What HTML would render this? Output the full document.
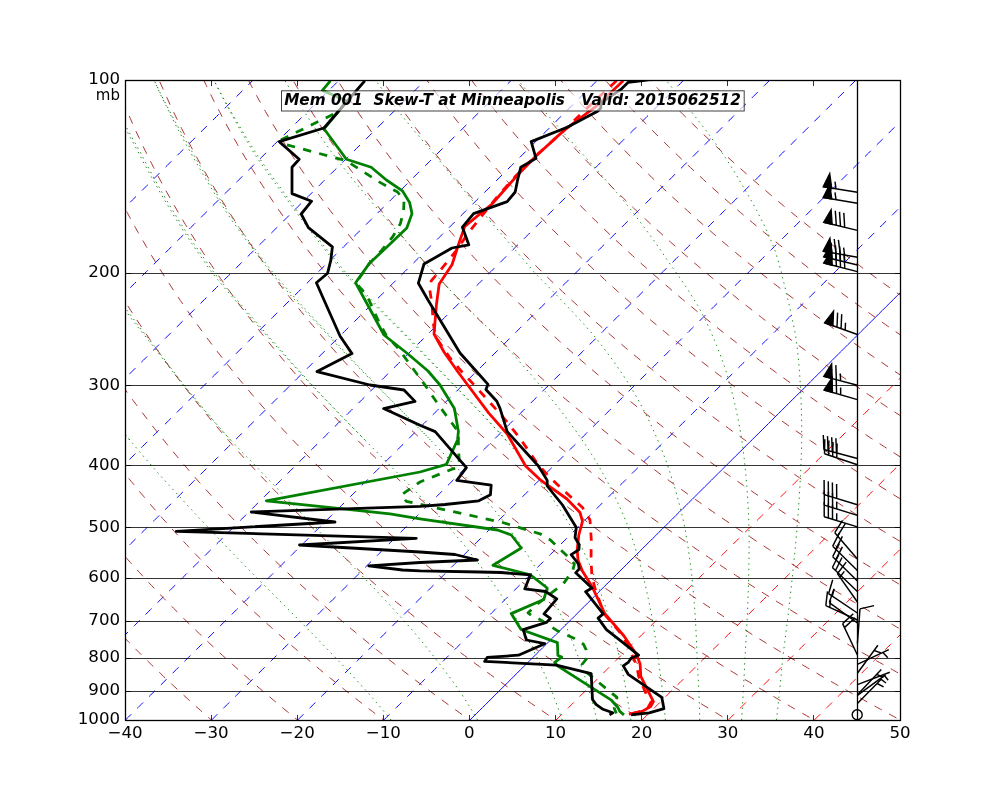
<!DOCTYPE html>
<html><head><meta charset="utf-8"><title>Skew-T</title>
<style>
html,body{margin:0;padding:0;background:#fff;}
svg{display:block;}
text{font-family:"DejaVu Sans","Liberation Sans",sans-serif;font-size:16.67px;fill:#000;}
</style></head><body>
<svg width="1000" height="800" viewBox="0 0 1000 800">
<rect width="1000" height="800" fill="#fff"/>
<defs><clipPath id="ax"><rect x="125" y="80" width="775" height="640"/></clipPath></defs>
<g clip-path="url(#ax)" fill="none"><g transform="translate(0.4,0.1)">
<path d="M-0.3 331.3 L3.1 327.9 L6.6 324.5 L10.1 321.0 L13.6 317.5 L17.2 313.9 L20.9 310.3 L24.5 306.6 L28.3 302.9 L32.1 299.2 L35.9 295.3 L39.8 291.5 L43.8 287.5 L47.8 283.6 L51.8 279.5 L56.0 275.4 L60.2 271.3 L64.4 267.0 L68.7 262.8 L73.1 258.4 L77.6 254.0 L82.1 249.5 L85.1 246.4 L88.2 243.4 L91.4 240.3 L94.5 237.1 L97.7 234.0 L101.0 230.7 L104.2 227.5 L107.5 224.2 L110.9 220.9 L114.3 217.5 L117.7 214.1 L121.2 210.6 L124.7 207.1 L128.3 203.6 L131.9 200.0 L135.6 196.4 L139.3 192.7 L143.0 189.0 L146.8 185.2 L150.7 181.4 L154.6 177.5 L158.6 173.5 L162.6 169.5 L166.7 165.5 L170.8 161.3 L175.0 157.2 L179.3 152.9 L183.7 148.6 L188.1 144.2 L192.5 139.8 L197.1 135.3 L201.7 130.7 L206.4 126.0 L211.2 121.3 L216.1 116.4 L221.0 111.5 L226.1 106.5 L231.2 101.4 L236.4 96.2 L241.8 90.9 L247.2 85.5 L252.7 80.0" stroke="#0000ff" stroke-width="0.95" stroke-dasharray="8.33 8.33"/>
<path d="M-0.3 416.9 L3.0 413.5 L6.4 410.2 L9.9 406.7 L13.3 403.3 L16.8 399.8 L20.4 396.3 L24.0 392.7 L27.7 389.0 L31.4 385.4 L35.1 381.6 L39.0 377.8 L42.8 374.0 L46.7 370.1 L50.7 366.2 L53.7 363.2 L56.8 360.2 L59.8 357.1 L63.0 354.0 L66.1 350.9 L69.3 347.7 L72.5 344.5 L75.8 341.3 L79.1 338.0 L82.4 334.7 L85.8 331.3 L89.2 327.9 L92.7 324.5 L96.2 321.0 L99.7 317.5 L103.3 313.9 L107.0 310.3 L110.7 306.6 L114.4 302.9 L118.2 299.2 L122.0 295.3 L125.9 291.5 L129.9 287.5 L133.9 283.6 L138.0 279.5 L142.1 275.4 L146.3 271.3 L150.5 267.0 L154.8 262.8 L159.2 258.4 L163.7 254.0 L168.2 249.5 L171.3 246.4 L174.3 243.4 L177.5 240.3 L180.6 237.1 L183.8 234.0 L187.1 230.7 L190.3 227.5 L193.7 224.2 L197.0 220.9 L200.4 217.5 L203.8 214.1 L207.3 210.6 L210.8 207.1 L214.4 203.6 L218.0 200.0 L221.7 196.4 L225.4 192.7 L229.1 189.0 L232.9 185.2 L236.8 181.4 L240.7 177.5 L244.7 173.5 L248.7 169.5 L252.8 165.5 L256.9 161.3 L261.2 157.2 L265.4 152.9 L269.8 148.6 L274.2 144.2 L278.6 139.8 L283.2 135.3 L287.8 130.7 L292.5 126.0 L297.3 121.3 L302.2 116.4 L307.1 111.5 L312.2 106.5 L317.3 101.4 L322.5 96.2 L327.9 90.9 L333.3 85.5 L338.8 80.0" stroke="#0000ff" stroke-width="0.95" stroke-dasharray="8.33 8.33"/>
<path d="M-0.9 503.0 L2.2 499.9 L5.3 496.8 L8.4 493.7 L11.6 490.5 L14.8 487.4 L18.1 484.1 L21.3 480.9 L24.7 477.6 L28.0 474.2 L31.4 470.8 L34.9 467.4 L38.4 463.9 L41.9 460.4 L45.5 456.9 L49.1 453.2 L52.8 449.6 L56.5 445.9 L59.6 442.9 L62.6 439.9 L65.7 436.8 L68.8 433.7 L72.0 430.6 L75.2 427.4 L78.4 424.2 L81.7 421.0 L85.0 417.7 L88.3 414.4 L91.7 411.0 L95.1 407.6 L98.6 404.2 L102.1 400.7 L105.6 397.1 L109.2 393.6 L112.9 390.0 L116.6 386.3 L120.3 382.6 L124.1 378.8 L128.0 375.0 L131.9 371.1 L135.8 367.2 L139.8 363.2 L142.9 360.2 L146.0 357.1 L149.1 354.0 L152.2 350.9 L155.4 347.7 L158.6 344.5 L161.9 341.3 L165.2 338.0 L168.5 334.7 L171.9 331.3 L175.3 327.9 L178.8 324.5 L182.3 321.0 L185.8 317.5 L189.4 313.9 L193.1 310.3 L196.8 306.6 L200.5 302.9 L204.3 299.2 L208.1 295.3 L212.0 291.5 L216.0 287.5 L220.0 283.6 L224.1 279.5 L228.2 275.4 L232.4 271.3 L236.6 267.0 L240.9 262.8 L245.3 258.4 L249.8 254.0 L254.3 249.5 L257.4 246.4 L260.5 243.4 L263.6 240.3 L266.8 237.1 L269.9 234.0 L273.2 230.7 L276.5 227.5 L279.8 224.2 L283.1 220.9 L286.5 217.5 L289.9 214.1 L293.4 210.6 L296.9 207.1 L300.5 203.6 L304.1 200.0 L307.8 196.4 L311.5 192.7 L315.2 189.0 L319.0 185.2 L322.9 181.4 L326.8 177.5 L330.8 173.5 L334.8 169.5 L338.9 165.5 L343.1 161.3 L347.3 157.2 L351.5 152.9 L355.9 148.6 L360.3 144.2 L364.8 139.8 L369.3 135.3 L373.9 130.7 L378.6 126.0 L383.4 121.3 L388.3 116.4 L393.2 111.5 L398.3 106.5 L403.4 101.4 L408.7 96.2 L414.0 90.9 L419.4 85.5 L425.0 80.0" stroke="#0000ff" stroke-width="0.95" stroke-dasharray="8.33 8.33"/>
<path d="M-0.9 588.5 L2.3 585.3 L5.5 582.2 L8.7 578.9 L12.0 575.7 L15.3 572.4 L18.6 569.1 L22.0 565.7 L25.5 562.3 L28.9 558.8 L32.0 555.8 L35.0 552.8 L38.1 549.8 L41.2 546.7 L44.3 543.5 L47.5 540.4 L50.8 537.2 L54.0 533.9 L57.3 530.7 L60.7 527.3 L64.0 524.0 L67.5 520.6 L70.9 517.2 L74.4 513.7 L78.0 510.1 L81.6 506.6 L84.6 503.6 L87.7 500.5 L90.8 497.4 L93.9 494.3 L97.1 491.2 L100.3 488.0 L103.5 484.8 L106.8 481.5 L110.1 478.2 L113.5 474.9 L116.9 471.5 L120.3 468.1 L123.8 464.6 L127.3 461.1 L130.9 457.6 L134.5 454.0 L138.2 450.3 L141.9 446.6 L145.7 442.9 L148.7 439.9 L151.8 436.8 L154.9 433.7 L158.1 430.6 L161.3 427.4 L164.5 424.2 L167.8 421.0 L171.1 417.7 L174.4 414.4 L177.8 411.0 L181.2 407.6 L184.7 404.2 L188.2 400.7 L191.7 397.1 L195.3 393.6 L199.0 390.0 L202.7 386.3 L206.4 382.6 L210.2 378.8 L214.1 375.0 L218.0 371.1 L221.9 367.2 L225.9 363.2 L229.0 360.2 L232.1 357.1 L235.2 354.0 L238.3 350.9 L241.5 347.7 L244.7 344.5 L248.0 341.3 L251.3 338.0 L254.6 334.7 L258.0 331.3 L261.4 327.9 L264.9 324.5 L268.4 321.0 L272.0 317.5 L275.5 313.9 L279.2 310.3 L282.9 306.6 L286.6 302.9 L290.4 299.2 L294.3 295.3 L298.2 291.5 L302.1 287.5 L306.1 283.6 L310.2 279.5 L314.3 275.4 L318.5 271.3 L322.7 267.0 L327.1 262.8 L331.4 258.4 L335.9 254.0 L340.4 249.5 L343.5 246.4 L346.6 243.4 L349.7 240.3 L352.9 237.1 L356.1 234.0 L359.3 230.7 L362.6 227.5 L365.9 224.2 L369.2 220.9 L372.6 217.5 L376.1 214.1 L379.5 210.6 L383.1 207.1 L386.6 203.6 L390.2 200.0 L393.9 196.4 L397.6 192.7 L401.4 189.0 L405.2 185.2 L409.0 181.4 L412.9 177.5 L416.9 173.5 L420.9 169.5 L425.0 165.5 L429.2 161.3 L433.4 157.2 L437.6 152.9 L442.0 148.6 L446.4 144.2 L450.9 139.8 L455.4 135.3 L460.0 130.7 L464.7 126.0 L469.5 121.3 L474.4 116.4 L479.4 111.5 L484.4 106.5 L489.5 101.4 L494.8 96.2 L500.1 90.9 L505.5 85.5 L511.1 80.0" stroke="#0000ff" stroke-width="0.95" stroke-dasharray="8.33 8.33"/>
<path d="M-0.8 673.8 L2.6 670.5 L5.6 667.5 L8.7 664.5 L11.8 661.4 L14.9 658.3 L18.0 655.2 L21.2 652.0 L24.5 648.8 L27.7 645.5 L31.1 642.3 L34.4 638.9 L37.4 635.9 L40.5 632.9 L43.5 629.8 L46.7 626.8 L49.8 623.6 L53.0 620.5 L56.2 617.3 L59.5 614.0 L62.8 610.8 L66.1 607.4 L69.5 604.1 L72.9 600.7 L75.9 597.7 L79.0 594.6 L82.1 591.6 L85.2 588.5 L88.4 585.3 L91.6 582.2 L94.8 578.9 L98.1 575.7 L101.4 572.4 L104.7 569.1 L108.1 565.7 L111.6 562.3 L115.0 558.8 L118.1 555.8 L121.1 552.8 L124.2 549.8 L127.3 546.7 L130.5 543.5 L133.6 540.4 L136.9 537.2 L140.1 533.9 L143.4 530.7 L146.8 527.3 L150.1 524.0 L153.6 520.6 L157.0 517.2 L160.5 513.7 L164.1 510.1 L167.7 506.6 L170.7 503.6 L173.8 500.5 L176.9 497.4 L180.0 494.3 L183.2 491.2 L186.4 488.0 L189.6 484.8 L192.9 481.5 L196.2 478.2 L199.6 474.9 L203.0 471.5 L206.4 468.1 L209.9 464.6 L213.4 461.1 L217.0 457.6 L220.6 454.0 L224.3 450.3 L228.0 446.6 L231.8 442.9 L234.8 439.9 L237.9 436.8 L241.0 433.7 L244.2 430.6 L247.4 427.4 L250.6 424.2 L253.9 421.0 L257.2 417.7 L260.5 414.4 L263.9 411.0 L267.3 407.6 L270.8 404.2 L274.3 400.7 L277.9 397.1 L281.5 393.6 L285.1 390.0 L288.8 386.3 L292.5 382.6 L296.3 378.8 L300.2 375.0 L304.1 371.1 L308.0 367.2 L312.0 363.2 L315.1 360.2 L318.2 357.1 L321.3 354.0 L324.4 350.9 L327.6 347.7 L330.8 344.5 L334.1 341.3 L337.4 338.0 L340.7 334.7 L344.1 331.3 L347.5 327.9 L351.0 324.5 L354.5 321.0 L358.1 317.5 L361.7 313.9 L365.3 310.3 L369.0 306.6 L372.7 302.9 L376.5 299.2 L380.4 295.3 L384.3 291.5 L388.2 287.5 L392.2 283.6 L396.3 279.5 L400.4 275.4 L404.6 271.3 L408.9 267.0 L413.2 262.8 L417.6 258.4 L422.0 254.0 L426.5 249.5 L429.6 246.4 L432.7 243.4 L435.8 240.3 L439.0 237.1 L442.2 234.0 L445.4 230.7 L448.7 227.5 L452.0 224.2 L455.3 220.9 L458.7 217.5 L462.2 214.1 L465.6 210.6 L469.2 207.1 L472.7 203.6 L476.3 200.0 L480.0 196.4 L483.7 192.7 L487.5 189.0 L491.3 185.2 L495.1 181.4 L499.0 177.5 L503.0 173.5 L507.0 169.5 L511.1 165.5 L515.3 161.3 L519.5 157.2 L523.8 152.9 L528.1 148.6 L532.5 144.2 L537.0 139.8 L541.5 135.3 L546.2 130.7 L550.9 126.0 L555.6 121.3 L560.5 116.4 L565.5 111.5 L570.5 106.5 L575.6 101.4 L580.9 96.2 L586.2 90.9 L591.6 85.5 L597.2 80.0" stroke="#0000ff" stroke-width="0.95" stroke-dasharray="8.33 8.33"/>
<path d="M38.9 720.0 L42.0 716.9 L45.1 713.8 L48.3 710.7 L51.5 707.5 L54.7 704.3 L58.0 701.0 L61.0 698.0 L64.1 695.0 L67.1 691.9 L70.2 688.9 L73.4 685.7 L76.6 682.6 L79.8 679.4 L83.1 676.1 L86.4 672.9 L89.7 669.5 L92.7 666.5 L95.8 663.5 L98.9 660.4 L102.0 657.3 L105.2 654.1 L108.4 650.9 L111.7 647.7 L115.0 644.5 L118.3 641.1 L121.6 637.8 L124.7 634.8 L127.7 631.8 L130.8 628.7 L134.0 625.6 L137.1 622.4 L140.3 619.3 L143.5 616.1 L146.8 612.8 L150.1 609.5 L153.5 606.2 L156.9 602.8 L160.3 599.4 L163.4 596.4 L166.4 593.3 L169.5 590.3 L172.7 587.1 L175.9 584.0 L179.1 580.8 L182.3 577.6 L185.6 574.3 L188.9 571.0 L192.3 567.6 L195.7 564.2 L199.2 560.8 L202.7 557.3 L205.7 554.3 L208.8 551.3 L211.9 548.2 L215.0 545.1 L218.2 542.0 L221.4 538.8 L224.6 535.6 L227.9 532.3 L231.2 529.0 L234.6 525.7 L238.0 522.3 L241.4 518.9 L244.9 515.4 L248.4 511.9 L252.0 508.4 L255.0 505.4 L258.0 502.3 L261.1 499.3 L264.2 496.2 L267.4 493.1 L270.6 489.9 L273.8 486.7 L277.0 483.5 L280.3 480.2 L283.7 476.9 L287.1 473.5 L290.5 470.1 L293.9 466.7 L297.4 463.2 L301.0 459.7 L304.6 456.1 L308.2 452.5 L311.9 448.9 L315.6 445.1 L318.7 442.1 L321.7 439.1 L324.8 436.0 L327.9 432.9 L331.1 429.8 L334.3 426.6 L337.5 423.4 L340.8 420.1 L344.1 416.9 L347.5 413.5 L350.9 410.2 L354.3 406.7 L357.8 403.3 L361.3 399.8 L364.9 396.3 L368.5 392.7 L372.1 389.0 L375.8 385.4 L379.6 381.6 L383.4 377.8 L387.3 374.0 L391.2 370.1 L395.1 366.2 L398.2 363.2 L401.2 360.2 L404.3 357.1 L407.4 354.0 L410.6 350.9 L413.7 347.7 L417.0 344.5 L420.2 341.3 L423.5 338.0 L426.9 334.7 L430.2 331.3 L433.7 327.9 L437.1 324.5 L440.6 321.0 L444.2 317.5 L447.8 313.9 L451.4 310.3 L455.1 306.6 L458.8 302.9 L462.6 299.2 L466.5 295.3 L470.4 291.5 L474.3 287.5 L478.3 283.6 L482.4 279.5 L486.5 275.4 L490.7 271.3 L495.0 267.0 L499.3 262.8 L503.7 258.4 L508.1 254.0 L512.6 249.5 L515.7 246.4 L518.8 243.4 L521.9 240.3 L525.1 237.1 L528.3 234.0 L531.5 230.7 L534.8 227.5 L538.1 224.2 L541.5 220.9 L544.8 217.5 L548.3 214.1 L551.8 210.6 L555.3 207.1 L558.8 203.6 L562.5 200.0 L566.1 196.4 L569.8 192.7 L573.6 189.0 L577.4 185.2 L581.2 181.4 L585.2 177.5 L589.1 173.5 L593.2 169.5 L597.2 165.5 L601.4 161.3 L605.6 157.2 L609.9 152.9 L614.2 148.6 L618.6 144.2 L623.1 139.8 L627.6 135.3 L632.3 130.7 L637.0 126.0 L641.8 121.3 L646.6 116.4 L651.6 111.5 L656.6 106.5 L661.8 101.4 L667.0 96.2 L672.3 90.9 L677.8 85.5 L683.3 80.0" stroke="#0000ff" stroke-width="0.95" stroke-dasharray="8.33 8.33"/>
<path d="M125.0 720.0 L128.1 716.9 L131.2 713.8 L134.4 710.7 L137.6 707.5 L140.8 704.3 L144.1 701.0 L147.1 698.0 L150.2 695.0 L153.2 691.9 L156.4 688.9 L159.5 685.7 L162.7 682.6 L165.9 679.4 L169.2 676.1 L172.5 672.9 L175.8 669.5 L178.8 666.5 L181.9 663.5 L185.0 660.4 L188.1 657.3 L191.3 654.1 L194.5 650.9 L197.8 647.7 L201.1 644.5 L204.4 641.1 L207.8 637.8 L210.8 634.8 L213.8 631.8 L216.9 628.7 L220.1 625.6 L223.2 622.4 L226.4 619.3 L229.7 616.1 L232.9 612.8 L236.2 609.5 L239.6 606.2 L243.0 602.8 L246.4 599.4 L249.5 596.4 L252.5 593.3 L255.6 590.3 L258.8 587.1 L262.0 584.0 L265.2 580.8 L268.4 577.6 L271.7 574.3 L275.0 571.0 L278.4 567.6 L281.8 564.2 L285.3 560.8 L288.8 557.3 L291.8 554.3 L294.9 551.3 L298.0 548.2 L301.1 545.1 L304.3 542.0 L307.5 538.8 L310.7 535.6 L314.0 532.3 L317.3 529.0 L320.7 525.7 L324.1 522.3 L327.5 518.9 L331.0 515.4 L334.5 511.9 L338.1 508.4 L341.1 505.4 L344.2 502.3 L347.2 499.3 L350.3 496.2 L353.5 493.1 L356.7 489.9 L359.9 486.7 L363.2 483.5 L366.5 480.2 L369.8 476.9 L373.2 473.5 L376.6 470.1 L380.0 466.7 L383.5 463.2 L387.1 459.7 L390.7 456.1 L394.3 452.5 L398.0 448.9 L401.7 445.1 L404.8 442.1 L407.8 439.1 L410.9 436.0 L414.0 432.9 L417.2 429.8 L420.4 426.6 L423.6 423.4 L426.9 420.1 L430.2 416.9 L433.6 413.5 L437.0 410.2 L440.4 406.7 L443.9 403.3 L447.4 399.8 L451.0 396.3 L454.6 392.7 L458.2 389.0 L461.9 385.4 L465.7 381.6 L469.5 377.8 L473.4 374.0 L477.3 370.1 L481.3 366.2 L484.3 363.2 L487.3 360.2 L490.4 357.1 L493.5 354.0 L496.7 350.9 L499.8 347.7 L503.1 344.5 L506.3 341.3 L509.6 338.0 L513.0 334.7 L516.3 331.3 L519.8 327.9 L523.2 324.5 L526.7 321.0 L530.3 317.5 L533.9 313.9 L537.5 310.3 L541.2 306.6 L545.0 302.9 L548.7 299.2 L552.6 295.3 L556.5 291.5 L560.4 287.5 L564.4 283.6 L568.5 279.5 L572.6 275.4 L576.8 271.3 L581.1 267.0 L585.4 262.8 L589.8 258.4 L594.2 254.0 L598.8 249.5 L601.8 246.4 L604.9 243.4 L608.0 240.3 L611.2 237.1 L614.4 234.0 L617.6 230.7 L620.9 227.5 L624.2 224.2 L627.6 220.9 L631.0 217.5 L634.4 214.1 L637.9 210.6 L641.4 207.1 L645.0 203.6 L648.6 200.0 L652.2 196.4 L655.9 192.7 L659.7 189.0 L663.5 185.2 L667.4 181.4 L671.3 177.5 L675.2 173.5 L679.3 169.5 L683.4 165.5 L687.5 161.3 L691.7 157.2 L696.0 152.9 L700.3 148.6 L704.7 144.2 L709.2 139.8 L713.8 135.3 L718.4 130.7 L723.1 126.0 L727.9 121.3 L732.7 116.4 L737.7 111.5 L742.7 106.5 L747.9 101.4 L753.1 96.2 L758.4 90.9 L763.9 85.5 L769.4 80.0" stroke="#0000ff" stroke-width="0.95" stroke-dasharray="8.33 8.33"/>
<path d="M211.1 720.0 L214.2 716.9 L217.3 713.8 L220.5 710.7 L223.7 707.5 L226.9 704.3 L230.2 701.0 L233.2 698.0 L236.3 695.0 L239.4 691.9 L242.5 688.9 L245.6 685.7 L248.8 682.6 L252.0 679.4 L255.3 676.1 L258.6 672.9 L261.9 669.5 L264.9 666.5 L268.0 663.5 L271.1 660.4 L274.3 657.3 L277.4 654.1 L280.6 650.9 L283.9 647.7 L287.2 644.5 L290.5 641.1 L293.9 637.8 L296.9 634.8 L300.0 631.8 L303.0 628.7 L306.2 625.6 L309.3 622.4 L312.5 619.3 L315.8 616.1 L319.0 612.8 L322.4 609.5 L325.7 606.2 L329.1 602.8 L332.5 599.4 L335.6 596.4 L338.6 593.3 L341.8 590.3 L344.9 587.1 L348.1 584.0 L351.3 580.8 L354.5 577.6 L357.8 574.3 L361.2 571.0 L364.5 567.6 L367.9 564.2 L371.4 560.8 L374.9 557.3 L377.9 554.3 L381.0 551.3 L384.1 548.2 L387.2 545.1 L390.4 542.0 L393.6 538.8 L396.8 535.6 L400.1 532.3 L403.4 529.0 L406.8 525.7 L410.2 522.3 L413.6 518.9 L417.1 515.4 L420.6 511.9 L424.2 508.4 L427.2 505.4 L430.3 502.3 L433.3 499.3 L436.5 496.2 L439.6 493.1 L442.8 489.9 L446.0 486.7 L449.3 483.5 L452.6 480.2 L455.9 476.9 L459.3 473.5 L462.7 470.1 L466.1 466.7 L469.7 463.2 L473.2 459.7 L476.8 456.1 L480.4 452.5 L484.1 448.9 L487.9 445.1 L490.9 442.1 L493.9 439.1 L497.0 436.0 L500.2 432.9 L503.3 429.8 L506.5 426.6 L509.8 423.4 L513.0 420.1 L516.3 416.9 L519.7 413.5 L523.1 410.2 L526.5 406.7 L530.0 403.3 L533.5 399.8 L537.1 396.3 L540.7 392.7 L544.3 389.0 L548.1 385.4 L551.8 381.6 L555.6 377.8 L559.5 374.0 L563.4 370.1 L567.4 366.2 L570.4 363.2 L573.4 360.2 L576.5 357.1 L579.6 354.0 L582.8 350.9 L586.0 347.7 L589.2 344.5 L592.4 341.3 L595.7 338.0 L599.1 334.7 L602.5 331.3 L605.9 327.9 L609.3 324.5 L612.8 321.0 L616.4 317.5 L620.0 313.9 L623.6 310.3 L627.3 306.6 L631.1 302.9 L634.9 299.2 L638.7 295.3 L642.6 291.5 L646.5 287.5 L650.6 283.6 L654.6 279.5 L658.7 275.4 L662.9 271.3 L667.2 267.0 L671.5 262.8 L675.9 258.4 L680.3 254.0 L684.9 249.5 L687.9 246.4 L691.0 243.4 L694.1 240.3 L697.3 237.1 L700.5 234.0 L703.7 230.7 L707.0 227.5 L710.3 224.2 L713.7 220.9 L717.1 217.5 L720.5 214.1 L724.0 210.6 L727.5 207.1 L731.1 203.6 L734.7 200.0 L738.3 196.4 L742.0 192.7 L745.8 189.0 L749.6 185.2 L753.5 181.4 L757.4 177.5 L761.3 173.5 L765.4 169.5 L769.5 165.5 L773.6 161.3 L777.8 157.2 L782.1 152.9 L786.4 148.6 L790.8 144.2 L795.3 139.8 L799.9 135.3 L804.5 130.7 L809.2 126.0 L814.0 121.3 L818.8 116.4 L823.8 111.5 L828.8 106.5 L834.0 101.4 L839.2 96.2 L844.5 90.9 L850.0 85.5 L855.5 80.0" stroke="#0000ff" stroke-width="0.95" stroke-dasharray="8.33 8.33"/>
<path d="M297.2 720.0 L300.3 716.9 L303.4 713.8 L306.6 710.7 L309.8 707.5 L313.1 704.3 L316.3 701.0 L319.3 698.0 L322.4 695.0 L325.5 691.9 L328.6 688.9 L331.7 685.7 L334.9 682.6 L338.1 679.4 L341.4 676.1 L344.7 672.9 L348.0 669.5 L351.1 666.5 L354.1 663.5 L357.2 660.4 L360.4 657.3 L363.5 654.1 L366.8 650.9 L370.0 647.7 L373.3 644.5 L376.6 641.1 L380.0 637.8 L383.0 634.8 L386.1 631.8 L389.2 628.7 L392.3 625.6 L395.4 622.4 L398.6 619.3 L401.9 616.1 L405.2 612.8 L408.5 609.5 L411.8 606.2 L415.2 602.8 L418.6 599.4 L421.7 596.4 L424.8 593.3 L427.9 590.3 L431.0 587.1 L434.2 584.0 L437.4 580.8 L440.6 577.6 L443.9 574.3 L447.3 571.0 L450.6 567.6 L454.0 564.2 L457.5 560.8 L461.0 557.3 L464.0 554.3 L467.1 551.3 L470.2 548.2 L473.3 545.1 L476.5 542.0 L479.7 538.8 L482.9 535.6 L486.2 532.3 L489.5 529.0 L492.9 525.7 L496.3 522.3 L499.7 518.9 L503.2 515.4 L506.7 511.9 L510.3 508.4 L513.3 505.4 L516.4 502.3 L519.5 499.3 L522.6 496.2 L525.7 493.1 L528.9 489.9 L532.1 486.7 L535.4 483.5 L538.7 480.2 L542.0 476.9 L545.4 473.5 L548.8 470.1 L552.3 466.7 L555.8 463.2 L559.3 459.7 L562.9 456.1 L566.5 452.5 L570.2 448.9 L574.0 445.1 L577.0 442.1 L580.1 439.1 L583.1 436.0 L586.3 432.9 L589.4 429.8 L592.6 426.6 L595.9 423.4 L599.1 420.1 L602.5 416.9 L605.8 413.5 L609.2 410.2 L612.6 406.7 L616.1 403.3 L619.6 399.8 L623.2 396.3 L626.8 392.7 L630.5 389.0 L634.2 385.4 L637.9 381.6 L641.7 377.8 L645.6 374.0 L649.5 370.1 L653.5 366.2 L656.5 363.2 L659.5 360.2 L662.6 357.1 L665.7 354.0 L668.9 350.9 L672.1 347.7 L675.3 344.5 L678.6 341.3 L681.9 338.0 L685.2 334.7 L688.6 331.3 L692.0 327.9 L695.5 324.5 L699.0 321.0 L702.5 317.5 L706.1 313.9 L709.7 310.3 L713.4 306.6 L717.2 302.9 L721.0 299.2 L724.8 295.3 L728.7 291.5 L732.7 287.5 L736.7 283.6 L740.7 279.5 L744.9 275.4 L749.0 271.3 L753.3 267.0 L757.6 262.8 L762.0 258.4 L766.5 254.0 L771.0 249.5 L774.0 246.4 L777.1 243.4 L780.3 240.3 L783.4 237.1 L786.6 234.0 L789.9 230.7 L793.1 227.5 L796.4 224.2 L799.8 220.9 L803.2 217.5 L806.6 214.1 L810.1 210.6 L813.6 207.1 L817.2 203.6 L820.8 200.0 L824.4 196.4 L828.2 192.7 L831.9 189.0 L835.7 185.2 L839.6 181.4 L843.5 177.5 L847.5 173.5 L851.5 169.5 L855.6 165.5 L859.7 161.3 L863.9 157.2 L868.2 152.9 L872.5 148.6 L876.9 144.2 L881.4 139.8 L886.0 135.3 L890.6 130.7 L895.3 126.0 L900.1 121.3 L905.0 116.4 L909.9 111.5 L915.0 106.5 L920.1 101.4 L925.3 96.2 L930.6 90.9 L936.1 85.5 L941.6 80.0" stroke="#0000ff" stroke-width="0.95" stroke-dasharray="8.33 8.33"/>
<path d="M383.3 720.0 L386.4 716.9 L389.6 713.8 L392.7 710.7 L395.9 707.5 L399.2 704.3 L402.4 701.0 L405.5 698.0 L408.5 695.0 L411.6 691.9 L414.7 688.9 L417.8 685.7 L421.0 682.6 L424.2 679.4 L427.5 676.1 L430.8 672.9 L434.1 669.5 L437.2 666.5 L440.2 663.5 L443.3 660.4 L446.5 657.3 L449.7 654.1 L452.9 650.9 L456.1 647.7 L459.4 644.5 L462.7 641.1 L466.1 637.8 L469.1 634.8 L472.2 631.8 L475.3 628.7 L478.4 625.6 L481.6 622.4 L484.8 619.3 L488.0 616.1 L491.3 612.8 L494.6 609.5 L497.9 606.2 L501.3 602.8 L504.8 599.4 L507.8 596.4 L510.9 593.3 L514.0 590.3 L517.1 587.1 L520.3 584.0 L523.5 580.8 L526.8 577.6 L530.1 574.3 L533.4 571.0 L536.7 567.6 L540.2 564.2 L543.6 560.8 L547.1 557.3 L550.1 554.3 L553.2 551.3 L556.3 548.2 L559.4 545.1 L562.6 542.0 L565.8 538.8 L569.0 535.6 L572.3 532.3 L575.6 529.0 L579.0 525.7 L582.4 522.3 L585.8 518.9 L589.3 515.4 L592.9 511.9 L596.4 508.4 L599.4 505.4 L602.5 502.3 L605.6 499.3 L608.7 496.2 L611.8 493.1 L615.0 489.9 L618.2 486.7 L621.5 483.5 L624.8 480.2 L628.1 476.9 L631.5 473.5 L634.9 470.1 L638.4 466.7 L641.9 463.2 L645.4 459.7 L649.0 456.1 L652.7 452.5 L656.3 448.9 L660.1 445.1 L663.1 442.1 L666.2 439.1 L669.3 436.0 L672.4 432.9 L675.5 429.8 L678.7 426.6 L682.0 423.4 L685.3 420.1 L688.6 416.9 L691.9 413.5 L695.3 410.2 L698.7 406.7 L702.2 403.3 L705.7 399.8 L709.3 396.3 L712.9 392.7 L716.6 389.0 L720.3 385.4 L724.0 381.6 L727.8 377.8 L731.7 374.0 L735.6 370.1 L739.6 366.2 L742.6 363.2 L745.6 360.2 L748.7 357.1 L751.8 354.0 L755.0 350.9 L758.2 347.7 L761.4 344.5 L764.7 341.3 L768.0 338.0 L771.3 334.7 L774.7 331.3 L778.1 327.9 L781.6 324.5 L785.1 321.0 L788.6 317.5 L792.2 313.9 L795.9 310.3 L799.5 306.6 L803.3 302.9 L807.1 299.2 L810.9 295.3 L814.8 291.5 L818.8 287.5 L822.8 283.6 L826.8 279.5 L831.0 275.4 L835.2 271.3 L839.4 267.0 L843.7 262.8 L848.1 258.4 L852.6 254.0 L857.1 249.5 L860.1 246.4 L863.2 243.4 L866.4 240.3 L869.5 237.1 L872.7 234.0 L876.0 230.7 L879.2 227.5 L882.5 224.2 L885.9 220.9 L889.3 217.5 L892.7 214.1 L896.2 210.6 L899.7 207.1 L903.3 203.6 L906.9 200.0 L910.6 196.4 L914.3 192.7 L918.0 189.0 L921.8 185.2 L925.7 181.4 L929.6 177.5 L933.6 173.5 L937.6 169.5 L941.7 165.5 L945.8 161.3 L950.0 157.2 L954.3 152.9 L958.7 148.6 L963.1 144.2 L967.5 139.8 L972.1 135.3 L976.7 130.7 L981.4 126.0 L986.2 121.3 L991.1 116.4 L996.0 111.5 L1001.1 106.5" stroke="#0000ff" stroke-width="0.95" stroke-dasharray="8.33 8.33"/>
<path d="M469.4 720.0 L472.5 716.9 L475.7 713.8 L478.8 710.7 L482.0 707.5 L485.3 704.3 L488.6 701.0 L491.6 698.0 L494.6 695.0 L497.7 691.9 L500.8 688.9 L504.0 685.7 L507.1 682.6 L510.4 679.4 L513.6 676.1 L516.9 672.9 L520.2 669.5 L523.3 666.5 L526.4 663.5 L529.5 660.4 L532.6 657.3 L535.8 654.1 L539.0 650.9 L542.2 647.7 L545.5 644.5 L548.8 641.1 L552.2 637.8 L555.2 634.8 L558.3 631.8 L561.4 628.7 L564.5 625.6 L567.7 622.4 L570.9 619.3 L574.1 616.1 L577.4 612.8 L580.7 609.5 L584.0 606.2 L587.4 602.8 L590.9 599.4 L593.9 596.4 L597.0 593.3 L600.1 590.3 L603.2 587.1 L606.4 584.0 L609.6 580.8 L612.9 577.6 L616.2 574.3 L619.5 571.0 L622.9 567.6 L626.3 564.2 L629.7 560.8 L633.2 557.3 L636.2 554.3 L639.3 551.3 L642.4 548.2 L645.5 545.1 L648.7 542.0 L651.9 538.8 L655.2 535.6 L658.4 532.3 L661.8 529.0 L665.1 525.7 L668.5 522.3 L672.0 518.9 L675.4 515.4 L679.0 511.9 L682.5 508.4 L685.6 505.4 L688.6 502.3 L691.7 499.3 L694.8 496.2 L697.9 493.1 L701.1 489.9 L704.3 486.7 L707.6 483.5 L710.9 480.2 L714.2 476.9 L717.6 473.5 L721.0 470.1 L724.5 466.7 L728.0 463.2 L731.5 459.7 L735.1 456.1 L738.8 452.5 L742.5 448.9 L746.2 445.1 L749.2 442.1 L752.3 439.1 L755.4 436.0 L758.5 432.9 L761.7 429.8 L764.9 426.6 L768.1 423.4 L771.4 420.1 L774.7 416.9 L778.0 413.5 L781.4 410.2 L784.9 406.7 L788.3 403.3 L791.8 399.8 L795.4 396.3 L799.0 392.7 L802.7 389.0 L806.4 385.4 L810.1 381.6 L814.0 377.8 L817.8 374.0 L821.7 370.1 L825.7 366.2 L828.7 363.2 L831.8 360.2 L834.8 357.1 L838.0 354.0 L841.1 350.9 L844.3 347.7 L847.5 344.5 L850.8 341.3 L854.1 338.0 L857.4 334.7 L860.8 331.3 L864.2 327.9 L867.7 324.5 L871.2 321.0 L874.7 317.5 L878.3 313.9 L882.0 310.3 L885.7 306.6 L889.4 302.9 L893.2 299.2 L897.0 295.3 L900.9 291.5 L904.9 287.5 L908.9 283.6 L913.0 279.5 L917.1 275.4 L921.3 271.3 L925.5 267.0 L929.8 262.8 L934.2 258.4 L938.7 254.0 L943.2 249.5 L946.3 246.4 L949.3 243.4 L952.5 240.3 L955.6 237.1 L958.8 234.0 L962.1 230.7 L965.3 227.5 L968.7 224.2 L972.0 220.9 L975.4 217.5 L978.8 214.1 L982.3 210.6 L985.8 207.1 L989.4 203.6 L993.0 200.0 L996.7 196.4 L1000.4 192.7 L1002.2 190.8" stroke="#0000ff" stroke-width="0.95"/>
<path d="M555.6 720.0 L558.7 716.9 L561.8 713.8 L564.9 710.7 L568.1 707.5 L571.4 704.3 L574.7 701.0 L577.7 698.0 L580.7 695.0 L583.8 691.9 L586.9 688.9 L590.1 685.7 L593.2 682.6 L596.5 679.4 L599.7 676.1 L603.0 672.9 L606.4 669.5 L609.4 666.5 L612.5 663.5 L615.6 660.4 L618.7 657.3 L621.9 654.1 L625.1 650.9 L628.3 647.7 L631.6 644.5 L634.9 641.1 L638.3 637.8 L641.3 634.8 L644.4 631.8 L647.5 628.7 L650.6 625.6 L653.8 622.4 L657.0 619.3 L660.2 616.1 L663.5 612.8 L666.8 609.5 L670.2 606.2 L673.5 602.8 L677.0 599.4 L680.0 596.4 L683.1 593.3 L686.2 590.3 L689.3 587.1 L692.5 584.0 L695.7 580.8 L699.0 577.6 L702.3 574.3 L705.6 571.0 L709.0 567.6 L712.4 564.2 L715.8 560.8 L719.3 557.3 L722.4 554.3 L725.4 551.3 L728.5 548.2 L731.7 545.1 L734.8 542.0 L738.0 538.8 L741.3 535.6 L744.5 532.3 L747.9 529.0 L751.2 525.7 L754.6 522.3 L758.1 518.9 L761.5 515.4 L765.1 511.9 L768.6 508.4 L771.7 505.4 L774.7 502.3 L777.8 499.3 L780.9 496.2 L784.0 493.1 L787.2 489.9 L790.5 486.7 L793.7 483.5 L797.0 480.2 L800.3 476.9 L803.7 473.5 L807.1 470.1 L810.6 466.7 L814.1 463.2 L817.6 459.7 L821.2 456.1 L824.9 452.5 L828.6 448.9 L832.3 445.1 L835.3 442.1 L838.4 439.1 L841.5 436.0 L844.6 432.9 L847.8 429.8 L851.0 426.6 L854.2 423.4 L857.5 420.1 L860.8 416.9 L864.1 413.5 L867.5 410.2 L871.0 406.7 L874.4 403.3 L878.0 399.8 L881.5 396.3 L885.1 392.7 L888.8 389.0 L892.5 385.4 L896.3 381.6 L900.1 377.8 L903.9 374.0 L907.8 370.1 L911.8 366.2 L914.8 363.2 L917.9 360.2 L921.0 357.1 L924.1 354.0 L927.2 350.9 L930.4 347.7 L933.6 344.5 L936.9 341.3 L940.2 338.0 L943.5 334.7 L946.9 331.3 L950.3 327.9 L953.8 324.5 L957.3 321.0 L960.8 317.5 L964.4 313.9 L968.1 310.3 L971.8 306.6 L975.5 302.9 L979.3 299.2 L983.1 295.3 L987.0 291.5 L991.0 287.5 L995.0 283.6 L999.1 279.5 L1001.8 276.8" stroke="#ff0000" stroke-width="0.95" stroke-dasharray="8.33 8.33"/>
<path d="M641.7 720.0 L644.8 716.9 L647.9 713.8 L651.1 710.7 L654.3 707.5 L657.5 704.3 L660.8 701.0 L663.8 698.0 L666.8 695.0 L669.9 691.9 L673.0 688.9 L676.2 685.7 L679.4 682.6 L682.6 679.4 L685.8 676.1 L689.1 672.9 L692.5 669.5 L695.5 666.5 L698.6 663.5 L701.7 660.4 L704.8 657.3 L708.0 654.1 L711.2 650.9 L714.4 647.7 L717.7 644.5 L721.1 641.1 L724.4 637.8 L727.5 634.8 L730.5 631.8 L733.6 628.7 L736.7 625.6 L739.9 622.4 L743.1 619.3 L746.3 616.1 L749.6 612.8 L752.9 609.5 L756.3 606.2 L759.7 602.8 L763.1 599.4 L766.1 596.4 L769.2 593.3 L772.3 590.3 L775.5 587.1 L778.6 584.0 L781.8 580.8 L785.1 577.6 L788.4 574.3 L791.7 571.0 L795.1 567.6 L798.5 564.2 L801.9 560.8 L805.4 557.3 L808.5 554.3 L811.5 551.3 L814.6 548.2 L817.8 545.1 L820.9 542.0 L824.1 538.8 L827.4 535.6 L830.7 532.3 L834.0 529.0 L837.3 525.7 L840.7 522.3 L844.2 518.9 L847.7 515.4 L851.2 511.9 L854.8 508.4 L857.8 505.4 L860.8 502.3 L863.9 499.3 L867.0 496.2 L870.2 493.1 L873.3 489.9 L876.6 486.7 L879.8 483.5 L883.1 480.2 L886.5 476.9 L889.8 473.5 L893.2 470.1 L896.7 466.7 L900.2 463.2 L903.8 459.7 L907.3 456.1 L911.0 452.5 L914.7 448.9 L918.4 445.1 L921.4 442.1 L924.5 439.1 L927.6 436.0 L930.7 432.9 L933.9 429.8 L937.1 426.6 L940.3 423.4 L943.6 420.1 L946.9 416.9 L950.2 413.5 L953.6 410.2 L957.1 406.7 L960.6 403.3 L964.1 399.8 L967.6 396.3 L971.2 392.7 L974.9 389.0 L978.6 385.4 L982.4 381.6 L986.2 377.8 L990.0 374.0 L994.0 370.1 L997.9 366.2 L1000.9 363.2 L1001.9 362.2" stroke="#ff0000" stroke-width="0.95" stroke-dasharray="8.33 8.33"/>
<path d="M727.8 720.0 L730.9 716.9 L734.0 713.8 L737.2 710.7 L740.4 707.5 L743.6 704.3 L746.9 701.0 L749.9 698.0 L752.9 695.0 L756.0 691.9 L759.1 688.9 L762.3 685.7 L765.5 682.6 L768.7 679.4 L771.9 676.1 L775.2 672.9 L778.6 669.5 L781.6 666.5 L784.7 663.5 L787.8 660.4 L790.9 657.3 L794.1 654.1 L797.3 650.9 L800.6 647.7 L803.8 644.5 L807.2 641.1 L810.5 637.8 L813.6 634.8 L816.6 631.8 L819.7 628.7 L822.8 625.6 L826.0 622.4 L829.2 619.3 L832.4 616.1 L835.7 612.8 L839.0 609.5 L842.4 606.2 L845.8 602.8 L849.2 599.4 L852.2 596.4 L855.3 593.3 L858.4 590.3 L861.6 587.1 L864.7 584.0 L868.0 580.8 L871.2 577.6 L874.5 574.3 L877.8 571.0 L881.2 567.6 L884.6 564.2 L888.1 560.8 L891.5 557.3 L894.6 554.3 L897.6 551.3 L900.7 548.2 L903.9 545.1 L907.0 542.0 L910.2 538.8 L913.5 535.6 L916.8 532.3 L920.1 529.0 L923.4 525.7 L926.8 522.3 L930.3 518.9 L933.8 515.4 L937.3 511.9 L940.9 508.4 L943.9 505.4 L946.9 502.3 L950.0 499.3 L953.1 496.2 L956.3 493.1 L959.5 489.9 L962.7 486.7 L965.9 483.5 L969.2 480.2 L972.6 476.9 L975.9 473.5 L979.4 470.1 L982.8 466.7 L986.3 463.2 L989.9 459.7 L993.5 456.1 L997.1 452.5 L1000.8 448.9 L1001.5 448.1" stroke="#ff0000" stroke-width="0.95" stroke-dasharray="8.33 8.33"/>
<path d="M813.9 720.0 L817.0 716.9 L820.1 713.8 L823.3 710.7 L826.5 707.5 L829.7 704.3 L833.0 701.0 L836.0 698.0 L839.1 695.0 L842.1 691.9 L845.2 688.9 L848.4 685.7 L851.6 682.6 L854.8 679.4 L858.1 676.1 L861.4 672.9 L864.7 669.5 L867.7 666.5 L870.8 663.5 L873.9 660.4 L877.0 657.3 L880.2 654.1 L883.4 650.9 L886.7 647.7 L890.0 644.5 L893.3 641.1 L896.6 637.8 L899.7 634.8 L902.7 631.8 L905.8 628.7 L909.0 625.6 L912.1 622.4 L915.3 619.3 L918.5 616.1 L921.8 612.8 L925.1 609.5 L928.5 606.2 L931.9 602.8 L935.3 599.4 L938.4 596.4 L941.4 593.3 L944.5 590.3 L947.7 587.1 L950.9 584.0 L954.1 580.8 L957.3 577.6 L960.6 574.3 L963.9 571.0 L967.3 567.6 L970.7 564.2 L974.2 560.8 L977.7 557.3 L980.7 554.3 L983.8 551.3 L986.9 548.2 L990.0 545.1 L993.2 542.0 L996.4 538.8 L999.6 535.6 L1001.2 533.9" stroke="#ff0000" stroke-width="0.95" stroke-dasharray="8.33 8.33"/>
<path d="M226.8 733.6 L223.4 730.6 L220.0 727.7 L216.5 724.7 L213.0 721.7 L209.5 718.6 L206.3 715.8 L203.1 713.0 L199.9 710.1 L196.6 707.2 L193.4 704.3 L190.1 701.3 L186.8 698.3 L183.5 695.3 L180.2 692.3 L176.9 689.2 L173.5 686.0 L170.1 682.9 L166.7 679.7 L163.3 676.5 L160.3 673.5 L157.2 670.5 L154.1 667.5 L150.9 664.5 L147.8 661.4 L144.6 658.3 L141.5 655.2 L138.3 652.0 L135.1 648.8 L131.9 645.5 L128.6 642.3 L125.4 638.9 L122.1 635.6 L118.8 632.1 L115.5 628.7 L112.6 625.6 L109.6 622.4 L106.7 619.3 L103.7 616.1 L100.7 612.8 L97.6 609.5 L94.6 606.2 L91.6 602.8 L88.5 599.4 L85.4 596.0 L82.3 592.5 L79.2 588.9 L76.1 585.3 L73.0 581.7 L69.8 578.0 L67.1 574.8 L64.3 571.5 L61.5 568.1 L58.7 564.7 L55.9 561.3 L53.0 557.8 L50.2 554.3 L47.3 550.8 L44.4 547.2 L41.6 543.5 L38.7 539.8 L35.7 536.1 L32.8 532.3 L29.9 528.5 L26.9 524.5 L24.0 520.6 L21.0 516.6 L18.4 513.1 L15.8 509.6 L13.2 506.0 L10.6 502.3 L8.0 498.7 L5.4 495.0 L2.8 491.2 L0.1 487.4 L-1.2 485.4" stroke="#a52a2a" stroke-width="0.95" stroke-dasharray="8.33 8.33"/>
<path d="M314.2 733.6 L310.8 730.9 L307.4 728.2 L304.0 725.5 L300.6 722.8 L297.2 720.0 L293.8 717.2 L290.3 714.4 L286.9 711.5 L283.4 708.7 L279.9 705.7 L276.4 702.8 L272.8 699.8 L269.3 696.8 L265.7 693.8 L262.1 690.7 L258.8 687.9 L255.6 685.1 L252.3 682.2 L249.0 679.4 L245.7 676.5 L242.4 673.5 L239.0 670.5 L235.6 667.5 L232.3 664.5 L228.9 661.4 L225.5 658.3 L222.0 655.2 L218.6 652.0 L215.1 648.8 L211.6 645.5 L208.5 642.6 L205.4 639.7 L202.2 636.7 L199.1 633.7 L195.9 630.6 L192.7 627.5 L189.5 624.4 L186.3 621.3 L183.1 618.1 L179.8 614.8 L176.6 611.6 L173.3 608.3 L170.0 604.9 L166.7 601.5 L163.3 598.1 L160.0 594.6 L157.0 591.6 L154.1 588.5 L151.1 585.3 L148.1 582.2 L145.1 578.9 L142.1 575.7 L139.1 572.4 L136.0 569.1 L133.0 565.7 L129.9 562.3 L126.8 558.8 L123.7 555.3 L120.6 551.8 L117.4 548.2 L114.3 544.6 L111.1 540.9 L107.9 537.2 L104.7 533.4 L102.0 530.1 L99.2 526.8 L96.4 523.4 L93.6 520.0 L90.8 516.6 L88.0 513.1 L85.2 509.6 L82.4 506.0 L79.5 502.3 L76.6 498.7 L73.8 495.0 L70.9 491.2 L67.9 487.4 L65.0 483.5 L62.1 479.5 L59.1 475.6 L56.2 471.5 L53.2 467.4 L50.2 463.2 L47.7 459.7 L45.2 456.1 L42.7 452.5 L40.1 448.9 L37.6 445.1 L35.0 441.4 L32.5 437.6 L29.9 433.7 L27.3 429.8 L24.7 425.8 L22.1 421.8 L19.5 417.7 L16.9 413.5 L14.3 409.3 L11.6 405.0 L9.0 400.7 L6.3 396.3 L3.6 391.8 L0.9 387.2 L-1.2 383.5" stroke="#a52a2a" stroke-width="0.95" stroke-dasharray="8.33 8.33"/>
<path d="M401.5 733.6 L397.9 730.9 L394.3 728.2 L390.6 725.5 L387.0 722.8 L383.3 720.0 L379.7 717.2 L375.9 714.4 L372.2 711.5 L368.5 708.7 L364.7 705.7 L361.3 703.1 L357.9 700.4 L354.5 697.7 L351.0 695.0 L347.6 692.3 L344.1 689.5 L340.6 686.7 L337.1 683.8 L333.6 681.0 L330.0 678.1 L326.4 675.2 L322.8 672.2 L319.2 669.2 L315.6 666.2 L312.0 663.1 L308.3 660.1 L305.1 657.3 L301.8 654.5 L298.5 651.7 L295.1 648.8 L291.8 645.9 L288.5 643.0 L285.1 640.0 L281.7 637.1 L278.3 634.0 L274.9 631.0 L271.5 627.9 L268.0 624.8 L264.6 621.7 L261.1 618.5 L257.6 615.2 L254.0 612.0 L250.5 608.7 L247.4 605.8 L244.3 602.8 L241.1 599.8 L238.0 596.8 L234.8 593.8 L231.6 590.7 L228.4 587.6 L225.2 584.4 L221.9 581.2 L218.7 578.0 L215.4 574.8 L212.1 571.5 L208.8 568.1 L205.5 564.7 L202.2 561.3 L198.8 557.8 L195.4 554.3 L192.0 550.8 L189.1 547.7 L186.2 544.6 L183.3 541.4 L180.3 538.2 L177.3 535.0 L174.3 531.8 L171.3 528.5 L168.3 525.1 L165.3 521.7 L162.2 518.3 L159.2 514.8 L156.1 511.3 L153.0 507.8 L149.9 504.2 L146.8 500.5 L143.7 496.8 L140.5 493.1 L137.3 489.3 L134.2 485.4 L131.0 481.5 L127.7 477.6 L125.0 474.2 L122.3 470.8 L119.6 467.4 L116.9 463.9 L114.2 460.4 L111.4 456.9 L108.6 453.2 L105.9 449.6 L103.1 445.9 L100.3 442.1 L97.5 438.3 L94.6 434.5 L91.8 430.6 L89.0 426.6 L86.1 422.6 L83.2 418.5 L80.3 414.4 L77.4 410.2 L74.5 405.9 L71.6 401.6 L68.6 397.1 L65.7 392.7 L63.3 389.0 L60.9 385.4 L58.5 381.6 L56.1 377.8 L53.7 374.0 L51.3 370.1 L48.9 366.2 L46.4 362.2 L44.0 358.1 L41.6 354.0 L39.1 349.8 L36.6 345.6 L34.1 341.3 L31.7 336.9 L29.2 332.4 L26.7 327.9 L24.2 323.3 L21.7 318.7 L19.1 313.9 L16.6 309.1 L14.1 304.2 L11.5 299.2 L9.0 294.1 L6.4 288.9 L3.8 283.6 L1.3 278.2 L-0.7 274.0 L-1.3 272.7" stroke="#a52a2a" stroke-width="0.95" stroke-dasharray="8.33 8.33"/>
<path d="M488.8 733.6 L485.0 730.9 L481.1 728.2 L477.2 725.5 L473.4 722.8 L469.8 720.3 L466.3 717.8 L462.8 715.2 L459.2 712.7 L455.6 710.1 L452.0 707.5 L448.4 704.9 L444.7 702.2 L441.1 699.5 L437.4 696.8 L433.7 694.1 L430.0 691.3 L426.3 688.5 L422.6 685.7 L418.8 682.9 L415.0 680.0 L411.2 677.1 L407.8 674.5 L404.4 671.9 L401.0 669.2 L397.5 666.5 L394.1 663.8 L390.6 661.1 L387.1 658.3 L383.6 655.5 L380.1 652.7 L376.5 649.9 L373.0 647.0 L369.4 644.1 L365.8 641.1 L362.2 638.2 L358.5 635.2 L354.9 632.1 L351.2 629.1 L347.5 626.0 L343.8 622.8 L340.5 620.1 L337.2 617.3 L333.9 614.4 L330.6 611.6 L327.3 608.7 L324.0 605.8 L320.6 602.8 L317.2 599.8 L313.8 596.8 L310.4 593.8 L307.0 590.7 L303.5 587.6 L300.1 584.4 L296.6 581.2 L293.1 578.0 L289.6 574.8 L286.0 571.5 L282.5 568.1 L278.9 564.7 L275.8 561.8 L272.7 558.8 L269.6 555.8 L266.5 552.8 L263.4 549.8 L260.2 546.7 L257.0 543.5 L253.9 540.4 L250.7 537.2 L247.5 533.9 L244.2 530.7 L241.0 527.3 L237.7 524.0 L234.4 520.6 L231.1 517.2 L227.8 513.7 L224.5 510.1 L221.1 506.6 L217.8 503.0 L214.4 499.3 L211.0 495.6 L207.6 491.8 L204.7 488.6 L201.8 485.4 L198.9 482.2 L196.0 478.9 L193.1 475.6 L190.2 472.2 L187.2 468.8 L184.3 465.3 L181.3 461.8 L178.3 458.3 L175.3 454.7 L172.3 451.1 L169.3 447.4 L166.2 443.6 L163.2 439.9 L160.1 436.0 L157.0 432.1 L153.9 428.2 L150.8 424.2 L147.6 420.1 L144.5 416.0 L141.3 411.8 L138.1 407.6 L135.6 404.2 L133.0 400.7 L130.4 397.1 L127.8 393.6 L125.2 390.0 L122.6 386.3 L120.0 382.6 L117.4 378.8 L114.7 375.0 L112.1 371.1 L109.4 367.2 L106.7 363.2 L104.0 359.1 L101.3 355.0 L98.6 350.9 L95.9 346.6 L93.2 342.4 L90.4 338.0 L87.7 333.6 L84.9 329.1 L82.1 324.5 L79.4 319.8 L76.6 315.1 L73.8 310.3 L70.9 305.4 L68.1 300.4 L65.3 295.3 L63.1 291.5 L61.0 287.5 L58.8 283.6 L56.7 279.5 L54.5 275.4 L52.4 271.3 L50.2 267.0 L48.0 262.8 L45.8 258.4 L43.6 254.0 L41.5 249.5 L39.3 244.9 L37.1 240.3 L34.9 235.5 L32.7 230.7 L30.5 225.8 L28.2 220.9 L26.0 215.8 L23.8 210.6 L21.6 205.4 L19.4 200.0 L17.2 194.5 L14.9 189.0 L12.7 183.3 L10.5 177.5 L8.3 171.5 L6.1 165.5 L3.9 159.3 L1.7 152.9 L-0.5 146.4 L-1.2 144.2" stroke="#a52a2a" stroke-width="0.95" stroke-dasharray="8.33 8.33"/>
<path d="M576.1 733.6 L572.5 731.2 L568.8 728.8 L565.1 726.3 L561.4 723.9 L557.6 721.4 L553.9 718.9 L550.1 716.4 L546.3 713.8 L542.5 711.2 L538.7 708.7 L534.9 706.0 L531.0 703.4 L527.1 700.7 L523.2 698.0 L519.3 695.3 L515.4 692.6 L511.4 689.8 L507.9 687.3 L504.4 684.8 L500.8 682.2 L497.2 679.7 L493.6 677.1 L490.0 674.5 L486.4 671.9 L482.7 669.2 L479.0 666.5 L475.4 663.8 L471.6 661.1 L467.9 658.3 L464.2 655.5 L460.4 652.7 L456.6 649.9 L452.8 647.0 L449.0 644.1 L445.2 641.1 L441.3 638.2 L437.9 635.6 L434.5 632.9 L431.1 630.2 L427.7 627.5 L424.2 624.8 L420.7 622.1 L417.2 619.3 L413.7 616.5 L410.2 613.6 L406.6 610.8 L403.1 607.9 L399.5 604.9 L395.9 602.0 L392.3 599.0 L388.7 596.0 L385.0 592.9 L381.3 589.8 L377.6 586.7 L373.9 583.5 L370.2 580.3 L366.4 577.1 L363.2 574.3 L360.0 571.5 L356.7 568.6 L353.4 565.7 L350.1 562.8 L346.8 559.8 L343.5 556.8 L340.1 553.8 L336.8 550.8 L333.4 547.7 L330.0 544.6 L326.6 541.4 L323.2 538.2 L319.7 535.0 L316.3 531.8 L312.8 528.5 L309.3 525.1 L305.8 521.7 L302.2 518.3 L298.7 514.8 L295.1 511.3 L291.5 507.8 L288.5 504.8 L285.5 501.7 L282.4 498.7 L279.4 495.6 L276.3 492.4 L273.2 489.3 L270.1 486.1 L267.0 482.8 L263.9 479.5 L260.7 476.2 L257.6 472.9 L254.4 469.5 L251.2 466.0 L248.0 462.5 L244.8 459.0 L241.5 455.4 L238.3 451.8 L235.0 448.1 L231.7 444.4 L228.4 440.6 L225.1 436.8 L221.7 432.9 L218.4 429.0 L215.0 425.0 L211.6 421.0 L208.9 417.7 L206.1 414.4 L203.4 411.0 L200.6 407.6 L197.8 404.2 L195.0 400.7 L192.2 397.1 L189.4 393.6 L186.6 390.0 L183.7 386.3 L180.9 382.6 L178.0 378.8 L175.1 375.0 L172.2 371.1 L169.3 367.2 L166.4 363.2 L163.5 359.1 L160.5 355.0 L157.6 350.9 L154.6 346.6 L151.6 342.4 L148.6 338.0 L145.6 333.6 L142.5 329.1 L139.5 324.5 L136.4 319.8 L133.4 315.1 L130.3 310.3 L127.2 305.4 L124.8 301.7 L122.5 297.9 L120.1 294.1 L117.8 290.2 L115.4 286.2 L113.0 282.2 L110.6 278.2 L108.3 274.0 L105.9 269.9 L103.4 265.6 L101.0 261.3 L98.6 256.9 L96.2 252.5 L93.7 248.0 L91.3 243.4 L88.8 238.7 L86.4 234.0 L83.9 229.1 L81.5 224.2 L79.0 219.2 L76.5 214.1 L74.0 208.9 L71.5 203.6 L69.0 198.2 L66.5 192.7 L64.0 187.1 L61.5 181.4 L59.0 175.5 L56.5 169.5 L54.0 163.4 L51.4 157.2 L48.9 150.8 L47.3 146.4 L45.6 142.0 L43.9 137.5 L42.2 133.0 L40.6 128.4 L38.9 123.6 L37.2 118.8 L35.6 114.0 L33.9 109.0 L32.3 104.0 L30.6 98.8 L29.0 93.6 L27.3 88.2 L25.7 82.8 L24.9 80.0" stroke="#a52a2a" stroke-width="0.95" stroke-dasharray="8.33 8.33"/>
<path d="M663.4 733.6 L659.6 731.2 L655.7 728.8 L651.8 726.3 L647.8 723.9 L643.9 721.4 L639.9 718.9 L635.9 716.4 L631.9 713.8 L627.9 711.2 L623.8 708.7 L619.8 706.0 L615.7 703.4 L612.0 701.0 L608.4 698.6 L604.7 696.2 L601.0 693.8 L597.3 691.3 L593.5 688.9 L589.8 686.4 L586.0 683.8 L582.2 681.3 L578.4 678.7 L574.6 676.1 L570.7 673.5 L566.9 670.9 L563.0 668.2 L559.1 665.5 L555.2 662.8 L551.2 660.1 L547.3 657.3 L543.3 654.5 L539.3 651.7 L535.8 649.2 L532.2 646.6 L528.7 644.1 L525.1 641.5 L521.5 638.9 L517.9 636.3 L514.3 633.7 L510.7 631.0 L507.0 628.3 L503.3 625.6 L499.6 622.8 L495.9 620.1 L492.2 617.3 L488.5 614.4 L484.7 611.6 L480.9 608.7 L477.1 605.8 L473.3 602.8 L469.4 599.8 L465.6 596.8 L461.7 593.8 L457.8 590.7 L454.4 588.0 L451.0 585.3 L447.6 582.6 L444.2 579.9 L440.8 577.1 L437.3 574.3 L433.9 571.5 L430.4 568.6 L426.9 565.7 L423.4 562.8 L419.9 559.8 L416.3 556.8 L412.7 553.8 L409.2 550.8 L405.5 547.7 L401.9 544.6 L398.3 541.4 L394.6 538.2 L390.9 535.0 L387.2 531.8 L383.5 528.5 L379.8 525.1 L376.0 521.7 L372.8 518.9 L369.7 516.0 L366.5 513.1 L363.3 510.1 L360.1 507.2 L356.9 504.2 L353.6 501.1 L350.4 498.1 L347.1 495.0 L343.8 491.8 L340.5 488.6 L337.2 485.4 L333.8 482.2 L330.5 478.9 L327.1 475.6 L323.7 472.2 L320.3 468.8 L316.8 465.3 L313.4 461.8 L309.9 458.3 L306.4 454.7 L302.9 451.1 L299.4 447.4 L295.9 443.6 L292.3 439.9 L288.7 436.0 L285.1 432.1 L282.2 429.0 L279.3 425.8 L276.4 422.6 L273.5 419.3 L270.5 416.0 L267.5 412.7 L264.6 409.3 L261.6 405.9 L258.6 402.4 L255.5 398.9 L252.5 395.4 L249.5 391.8 L246.4 388.1 L243.3 384.4 L240.2 380.7 L237.1 376.9 L234.0 373.0 L230.8 369.1 L227.7 365.2 L224.5 361.2 L221.3 357.1 L218.1 353.0 L214.9 348.8 L211.6 344.5 L208.4 340.2 L205.1 335.8 L201.8 331.3 L198.5 326.8 L195.2 322.2 L192.7 318.7 L190.2 315.1 L187.6 311.5 L185.1 307.9 L182.6 304.2 L180.0 300.4 L177.4 296.6 L174.9 292.8 L172.3 288.9 L169.7 284.9 L167.1 280.9 L164.5 276.8 L161.8 272.7 L159.2 268.5 L156.6 264.2 L153.9 259.9 L151.2 255.5 L148.6 251.0 L145.9 246.4 L143.2 241.8 L140.5 237.1 L137.7 232.3 L135.0 227.5 L132.3 222.5 L129.5 217.5 L126.8 212.4 L124.0 207.1 L121.2 201.8 L118.5 196.4 L115.7 190.8 L112.9 185.2 L110.1 179.4 L107.3 173.5 L104.4 167.5 L101.6 161.3 L99.7 157.2 L97.8 152.9 L96.0 148.6 L94.1 144.2 L92.2 139.8 L90.3 135.3 L88.4 130.7 L86.5 126.0 L84.6 121.3 L82.7 116.4 L80.8 111.5 L78.9 106.5 L77.0 101.4 L75.2 96.2 L73.3 90.9 L71.4 85.5 L69.5 80.0" stroke="#a52a2a" stroke-width="0.95" stroke-dasharray="8.33 8.33"/>
<path d="M750.8 733.6 L746.7 731.2 L742.6 728.8 L738.4 726.3 L734.3 723.9 L730.1 721.4 L725.9 718.9 L721.7 716.4 L717.9 714.1 L714.2 711.8 L710.4 709.5 L706.6 707.2 L702.7 704.9 L698.9 702.5 L695.0 700.1 L691.1 697.7 L687.2 695.3 L683.3 692.9 L679.4 690.4 L675.4 687.9 L671.5 685.4 L667.5 682.9 L663.5 680.3 L659.4 677.8 L655.4 675.2 L651.3 672.5 L647.2 669.9 L643.1 667.2 L639.0 664.5 L635.3 662.1 L631.7 659.7 L628.0 657.3 L624.3 654.8 L620.6 652.4 L616.9 649.9 L613.2 647.4 L609.4 644.8 L605.6 642.3 L601.8 639.7 L598.0 637.1 L594.2 634.4 L590.3 631.8 L586.5 629.1 L582.6 626.4 L578.7 623.6 L574.8 620.9 L570.8 618.1 L566.9 615.2 L562.9 612.4 L558.9 609.5 L554.8 606.6 L550.8 603.7 L547.3 601.1 L543.8 598.5 L540.3 596.0 L536.7 593.3 L533.2 590.7 L529.6 588.0 L526.0 585.3 L522.4 582.6 L518.8 579.9 L515.1 577.1 L511.5 574.3 L507.8 571.5 L504.1 568.6 L500.4 565.7 L496.7 562.8 L492.9 559.8 L489.1 556.8 L485.3 553.8 L481.5 550.8 L477.7 547.7 L473.8 544.6 L470.0 541.4 L466.1 538.2 L462.1 535.0 L458.2 531.8 L454.9 529.0 L451.6 526.2 L448.2 523.4 L444.9 520.6 L441.5 517.7 L438.2 514.8 L434.8 511.9 L431.3 509.0 L427.9 506.0 L424.5 503.0 L421.0 499.9 L417.5 496.8 L414.0 493.7 L410.5 490.5 L407.0 487.4 L403.4 484.1 L399.8 480.9 L396.2 477.6 L392.6 474.2 L389.0 470.8 L385.3 467.4 L381.7 463.9 L378.0 460.4 L374.2 456.9 L370.5 453.2 L366.8 449.6 L363.0 445.9 L359.9 442.9 L356.9 439.9 L353.8 436.8 L350.7 433.7 L347.6 430.6 L344.5 427.4 L341.4 424.2 L338.3 421.0 L335.1 417.7 L331.9 414.4 L328.7 411.0 L325.5 407.6 L322.3 404.2 L319.1 400.7 L315.8 397.1 L312.6 393.6 L309.3 390.0 L306.0 386.3 L302.6 382.6 L299.3 378.8 L295.9 375.0 L292.6 371.1 L289.2 367.2 L285.8 363.2 L282.3 359.1 L278.9 355.0 L275.4 350.9 L271.9 346.6 L268.4 342.4 L264.9 338.0 L261.4 333.6 L258.7 330.2 L256.0 326.8 L253.3 323.3 L250.6 319.8 L247.9 316.3 L245.1 312.7 L242.4 309.1 L239.6 305.4 L236.9 301.7 L234.1 297.9 L231.3 294.1 L228.5 290.2 L225.7 286.2 L222.9 282.2 L220.0 278.2 L217.2 274.0 L214.3 269.9 L211.4 265.6 L208.5 261.3 L205.6 256.9 L202.7 252.5 L199.8 248.0 L196.8 243.4 L193.9 238.7 L190.9 234.0 L187.9 229.1 L184.9 224.2 L181.9 219.2 L178.9 214.1 L175.9 208.9 L172.8 203.6 L169.8 198.2 L166.7 192.7 L163.6 187.1 L160.5 181.4 L157.4 175.5 L155.3 171.5 L153.3 167.5 L151.2 163.4 L149.1 159.3 L147.0 155.1 L144.9 150.8 L142.8 146.4 L140.7 142.0 L138.6 137.5 L136.4 133.0 L134.3 128.4 L132.2 123.6 L130.1 118.8 L128.0 114.0 L125.8 109.0 L123.7 104.0 L121.6 98.8 L119.4 93.6 L117.3 88.2 L115.2 82.8 L114.1 80.0" stroke="#a52a2a" stroke-width="0.95" stroke-dasharray="8.33 8.33"/>
<path d="M838.1 733.6 L833.8 731.2 L829.4 728.8 L825.6 726.6 L821.7 724.4 L817.8 722.2 L813.9 720.0 L810.0 717.8 L806.0 715.5 L802.0 713.2 L798.1 711.0 L794.1 708.7 L790.0 706.3 L786.0 704.0 L781.9 701.6 L777.9 699.2 L773.8 696.8 L769.6 694.4 L765.5 691.9 L761.4 689.5 L757.2 687.0 L753.0 684.5 L748.8 681.9 L744.5 679.4 L740.3 676.8 L736.5 674.5 L732.8 672.2 L729.0 669.9 L725.2 667.5 L721.4 665.2 L717.6 662.8 L713.7 660.4 L709.8 658.0 L706.0 655.5 L702.1 653.1 L698.1 650.6 L694.2 648.1 L690.2 645.5 L686.3 643.0 L682.3 640.4 L678.2 637.8 L674.2 635.2 L670.2 632.5 L666.1 629.8 L662.0 627.1 L657.9 624.4 L653.7 621.7 L649.6 618.9 L645.4 616.1 L641.8 613.6 L638.2 611.2 L634.5 608.7 L630.9 606.2 L627.2 603.7 L623.5 601.1 L619.8 598.5 L616.1 596.0 L612.3 593.3 L608.6 590.7 L604.8 588.0 L601.0 585.3 L597.2 582.6 L593.3 579.9 L589.5 577.1 L585.6 574.3 L581.7 571.5 L577.8 568.6 L573.9 565.7 L569.9 562.8 L565.9 559.8 L561.9 556.8 L557.9 553.8 L553.9 550.8 L549.8 547.7 L545.7 544.6 L542.3 542.0 L538.9 539.3 L535.4 536.6 L532.0 533.9 L528.5 531.2 L525.0 528.5 L521.4 525.7 L517.9 522.9 L514.3 520.0 L510.8 517.2 L507.2 514.3 L503.6 511.3 L499.9 508.4 L496.3 505.4 L492.6 502.3 L488.9 499.3 L485.2 496.2 L481.5 493.1 L477.8 489.9 L474.0 486.7 L470.2 483.5 L466.4 480.2 L462.6 476.9 L458.7 473.5 L454.9 470.1 L451.0 466.7 L447.1 463.2 L443.1 459.7 L440.0 456.9 L436.8 454.0 L433.6 451.1 L430.4 448.1 L427.1 445.1 L423.9 442.1 L420.6 439.1 L417.4 436.0 L414.1 432.9 L410.8 429.8 L407.4 426.6 L404.1 423.4 L400.7 420.1 L397.4 416.9 L394.0 413.5 L390.6 410.2 L387.1 406.7 L383.7 403.3 L380.2 399.8 L376.8 396.3 L373.3 392.7 L369.7 389.0 L366.2 385.4 L362.6 381.6 L359.1 377.8 L355.5 374.0 L351.8 370.1 L348.2 366.2 L344.5 362.2 L340.8 358.1 L337.1 354.0 L333.4 349.8 L329.7 345.6 L326.8 342.4 L324.0 339.1 L321.2 335.8 L318.3 332.4 L315.4 329.1 L312.5 325.6 L309.6 322.2 L306.7 318.7 L303.8 315.1 L300.8 311.5 L297.9 307.9 L294.9 304.2 L291.9 300.4 L288.9 296.6 L285.9 292.8 L282.9 288.9 L279.8 284.9 L276.8 280.9 L273.7 276.8 L270.6 272.7 L267.5 268.5 L264.4 264.2 L261.2 259.9 L258.1 255.5 L254.9 251.0 L251.7 246.4 L248.5 241.8 L245.3 237.1 L242.1 232.3 L238.8 227.5 L235.6 222.5 L232.3 217.5 L229.0 212.4 L225.7 207.1 L222.4 201.8 L219.0 196.4 L215.7 190.8 L213.4 187.1 L211.2 183.3 L208.9 179.4 L206.6 175.5 L204.3 171.5 L202.1 167.5 L199.8 163.4 L197.5 159.3 L195.2 155.1 L192.9 150.8 L190.5 146.4 L188.2 142.0 L185.9 137.5 L183.6 133.0 L181.2 128.4 L178.9 123.6 L176.5 118.8 L174.2 114.0 L171.8 109.0 L169.4 104.0 L167.1 98.8 L164.7 93.6 L162.3 88.2 L159.9 82.8 L158.7 80.0" stroke="#a52a2a" stroke-width="0.95" stroke-dasharray="8.33 8.33"/>
<path d="M925.4 733.6 L921.4 731.4 L917.3 729.3 L913.3 727.1 L909.2 725.0 L905.1 722.8 L901.0 720.6 L896.9 718.3 L892.8 716.1 L888.6 713.8 L884.4 711.5 L880.2 709.2 L876.0 706.9 L871.8 704.6 L867.5 702.2 L863.2 699.8 L858.9 697.4 L854.6 695.0 L850.3 692.6 L845.9 690.1 L842.1 687.9 L838.2 685.7 L834.4 683.5 L830.5 681.3 L826.6 679.0 L822.6 676.8 L818.7 674.5 L814.8 672.2 L810.8 669.9 L806.8 667.5 L802.8 665.2 L798.7 662.8 L794.7 660.4 L790.6 658.0 L786.5 655.5 L782.4 653.1 L778.3 650.6 L774.2 648.1 L770.0 645.5 L765.8 643.0 L761.6 640.4 L757.4 637.8 L753.1 635.2 L748.9 632.5 L744.6 629.8 L740.9 627.5 L737.2 625.2 L733.4 622.8 L729.7 620.5 L725.9 618.1 L722.1 615.7 L718.3 613.2 L714.5 610.8 L710.7 608.3 L706.8 605.8 L703.0 603.2 L699.1 600.7 L695.2 598.1 L691.2 595.5 L687.3 592.9 L683.3 590.3 L679.3 587.6 L675.3 584.9 L671.3 582.2 L667.2 579.4 L663.2 576.6 L659.1 573.8 L655.0 571.0 L650.8 568.1 L646.7 565.2 L642.5 562.3 L638.3 559.3 L634.8 556.8 L631.2 554.3 L627.7 551.8 L624.1 549.2 L620.5 546.7 L616.9 544.1 L613.3 541.4 L609.7 538.8 L606.0 536.1 L602.3 533.4 L598.7 530.7 L594.9 527.9 L591.2 525.1 L587.5 522.3 L583.7 519.4 L579.9 516.6 L576.1 513.7 L572.3 510.7 L568.4 507.8 L564.6 504.8 L560.7 501.7 L556.8 498.7 L552.9 495.6 L548.9 492.4 L544.9 489.3 L541.0 486.1 L536.9 482.8 L532.9 479.5 L528.8 476.2 L524.8 472.9 L521.5 470.1 L518.2 467.4 L514.9 464.6 L511.5 461.8 L508.2 459.0 L504.8 456.1 L501.4 453.2 L498.0 450.3 L494.6 447.4 L491.2 444.4 L487.8 441.4 L484.3 438.3 L480.8 435.3 L477.3 432.1 L473.8 429.0 L470.3 425.8 L466.7 422.6 L463.1 419.3 L459.5 416.0 L455.9 412.7 L452.3 409.3 L448.6 405.9 L445.0 402.4 L441.3 398.9 L437.6 395.4 L433.8 391.8 L430.1 388.1 L426.3 384.4 L422.5 380.7 L418.7 376.9 L414.8 373.0 L411.0 369.1 L407.1 365.2 L403.2 361.2 L399.2 357.1 L396.3 354.0 L393.3 350.9 L390.3 347.7 L387.3 344.5 L384.3 341.3 L381.2 338.0 L378.2 334.7 L375.1 331.3 L372.0 327.9 L368.9 324.5 L365.8 321.0 L362.7 317.5 L359.5 313.9 L356.4 310.3 L353.2 306.6 L350.0 302.9 L346.8 299.2 L343.6 295.3 L340.3 291.5 L337.1 287.5 L333.8 283.6 L330.5 279.5 L327.2 275.4 L323.9 271.3 L320.5 267.0 L317.2 262.8 L313.8 258.4 L310.4 254.0 L307.0 249.5 L303.5 244.9 L300.1 240.3 L296.6 235.5 L293.1 230.7 L289.6 225.8 L286.0 220.9 L282.5 215.8 L278.9 210.6 L275.3 205.4 L271.7 200.0 L269.3 196.4 L266.9 192.7 L264.4 189.0 L262.0 185.2 L259.5 181.4 L257.1 177.5 L254.6 173.5 L252.1 169.5 L249.6 165.5 L247.1 161.3 L244.6 157.2 L242.1 152.9 L239.6 148.6 L237.0 144.2 L234.5 139.8 L231.9 135.3 L229.4 130.7 L226.8 126.0 L224.2 121.3 L221.6 116.4 L219.1 111.5 L216.5 106.5 L213.8 101.4 L211.2 96.2 L208.6 90.9 L206.0 85.5 L203.3 80.0" stroke="#a52a2a" stroke-width="0.95" stroke-dasharray="8.33 8.33"/>
<path d="M1000.6 727.4 L996.3 725.2 L992.0 723.0 L987.7 720.8 L983.4 718.6 L979.1 716.4 L974.7 714.1 L970.3 711.8 L965.9 709.5 L961.5 707.2 L957.1 704.9 L952.6 702.5 L948.7 700.4 L944.8 698.3 L940.8 696.2 L936.8 694.1 L932.8 691.9 L928.8 689.8 L924.8 687.6 L920.8 685.4 L916.7 683.2 L912.6 681.0 L908.5 678.7 L904.4 676.5 L900.3 674.2 L896.1 671.9 L892.0 669.5 L887.8 667.2 L883.6 664.8 L879.3 662.5 L875.1 660.1 L870.8 657.6 L866.5 655.2 L862.2 652.7 L857.9 650.2 L853.5 647.7 L849.2 645.2 L844.8 642.6 L840.3 640.0 L836.5 637.8 L832.7 635.6 L828.9 633.3 L825.0 631.0 L821.1 628.7 L817.2 626.4 L813.3 624.0 L809.4 621.7 L805.4 619.3 L801.5 616.9 L797.5 614.4 L793.5 612.0 L789.5 609.5 L785.4 607.0 L781.4 604.5 L777.3 602.0 L773.2 599.4 L769.1 596.8 L764.9 594.2 L760.8 591.6 L756.6 588.9 L752.4 586.2 L748.1 583.5 L743.9 580.8 L739.6 578.0 L735.3 575.2 L731.0 572.4 L726.7 569.6 L723.0 567.2 L719.4 564.7 L715.7 562.3 L712.0 559.8 L708.3 557.3 L704.6 554.8 L700.9 552.3 L697.1 549.8 L693.3 547.2 L689.6 544.6 L685.7 542.0 L681.9 539.3 L678.1 536.6 L674.2 533.9 L670.3 531.2 L666.4 528.5 L662.5 525.7 L658.5 522.9 L654.6 520.0 L650.6 517.2 L646.6 514.3 L642.5 511.3 L638.5 508.4 L634.4 505.4 L630.3 502.3 L626.2 499.3 L622.1 496.2 L617.9 493.1 L613.7 489.9 L609.5 486.7 L605.3 483.5 L601.9 480.9 L598.5 478.2 L595.0 475.6 L591.6 472.9 L588.1 470.1 L584.6 467.4 L581.1 464.6 L577.6 461.8 L574.0 459.0 L570.5 456.1 L566.9 453.2 L563.3 450.3 L559.7 447.4 L556.1 444.4 L552.4 441.4 L548.8 438.3 L545.1 435.3 L541.4 432.1 L537.6 429.0 L533.9 425.8 L530.1 422.6 L526.4 419.3 L522.5 416.0 L518.7 412.7 L514.9 409.3 L511.0 405.9 L507.1 402.4 L503.2 398.9 L499.3 395.4 L495.3 391.8 L491.3 388.1 L487.3 384.4 L483.3 380.7 L479.2 376.9 L475.1 373.0 L471.0 369.1 L467.9 366.2 L464.8 363.2 L461.7 360.2 L458.5 357.1 L455.4 354.0 L452.2 350.9 L449.0 347.7 L445.8 344.5 L442.6 341.3 L439.4 338.0 L436.1 334.7 L432.8 331.3 L429.6 327.9 L426.3 324.5 L422.9 321.0 L419.6 317.5 L416.3 313.9 L412.9 310.3 L409.5 306.6 L406.1 302.9 L402.7 299.2 L399.2 295.3 L395.8 291.5 L392.3 287.5 L388.8 283.6 L385.3 279.5 L381.7 275.4 L378.2 271.3 L374.6 267.0 L371.0 262.8 L367.4 258.4 L363.7 254.0 L360.1 249.5 L356.4 244.9 L352.7 240.3 L348.9 235.5 L345.2 230.7 L341.4 225.8 L337.6 220.9 L333.8 215.8 L329.9 210.6 L327.4 207.1 L324.8 203.6 L322.2 200.0 L319.6 196.4 L317.0 192.7 L314.3 189.0 L311.7 185.2 L309.0 181.4 L306.4 177.5 L303.7 173.5 L301.0 169.5 L298.3 165.5 L295.6 161.3 L292.9 157.2 L290.2 152.9 L287.4 148.6 L284.7 144.2 L281.9 139.8 L279.2 135.3 L276.4 130.7 L273.6 126.0 L270.8 121.3 L268.0 116.4 L265.1 111.5 L262.3 106.5 L259.4 101.4 L256.6 96.2 L253.7 90.9 L250.8 85.5 L248.0 80.0" stroke="#a52a2a" stroke-width="0.95" stroke-dasharray="8.33 8.33"/>
<path d="M1000.8 683.8 L996.6 681.6 L992.3 679.4 L988.0 677.1 L983.7 674.8 L979.3 672.5 L975.0 670.2 L970.6 667.9 L966.2 665.5 L961.8 663.1 L957.3 660.7 L952.9 658.3 L948.4 655.9 L943.9 653.4 L940.0 651.3 L936.1 649.2 L932.2 647.0 L928.2 644.8 L924.3 642.6 L920.3 640.4 L916.3 638.2 L912.3 635.9 L908.3 633.7 L904.3 631.4 L900.2 629.1 L896.1 626.8 L892.0 624.4 L887.9 622.1 L883.8 619.7 L879.6 617.3 L875.5 614.8 L871.3 612.4 L867.0 609.9 L862.8 607.4 L858.6 604.9 L854.3 602.4 L850.0 599.8 L845.7 597.3 L841.3 594.6 L837.0 592.0 L832.6 589.4 L828.2 586.7 L823.7 584.0 L819.3 581.2 L815.5 578.9 L811.8 576.6 L808.0 574.3 L804.2 571.9 L800.4 569.6 L796.6 567.2 L792.8 564.7 L788.9 562.3 L785.1 559.8 L781.2 557.3 L777.3 554.8 L773.4 552.3 L769.4 549.8 L765.4 547.2 L761.5 544.6 L757.5 542.0 L753.4 539.3 L749.4 536.6 L745.3 533.9 L741.2 531.2 L737.1 528.5 L733.0 525.7 L728.9 522.9 L724.7 520.0 L720.5 517.2 L716.3 514.3 L712.0 511.3 L707.8 508.4 L703.5 505.4 L699.2 502.3 L694.9 499.3 L690.5 496.2 L687.0 493.7 L683.5 491.2 L679.9 488.6 L676.4 486.1 L672.8 483.5 L669.2 480.9 L665.6 478.2 L662.0 475.6 L658.4 472.9 L654.7 470.1 L651.0 467.4 L647.3 464.6 L643.6 461.8 L639.9 459.0 L636.1 456.1 L632.4 453.2 L628.6 450.3 L624.8 447.4 L621.0 444.4 L617.1 441.4 L613.2 438.3 L609.3 435.3 L605.4 432.1 L601.5 429.0 L597.5 425.8 L593.6 422.6 L589.6 419.3 L585.6 416.0 L581.5 412.7 L577.4 409.3 L573.4 405.9 L569.2 402.4 L565.1 398.9 L560.9 395.4 L556.7 391.8 L552.5 388.1 L548.3 384.4 L545.1 381.6 L541.9 378.8 L538.7 375.9 L535.4 373.0 L532.2 370.1 L528.9 367.2 L525.6 364.2 L522.3 361.2 L519.0 358.1 L515.6 355.0 L512.3 351.9 L508.9 348.8 L505.5 345.6 L502.1 342.4 L498.7 339.1 L495.2 335.8 L491.8 332.4 L488.3 329.1 L484.8 325.6 L481.3 322.2 L477.7 318.7 L474.2 315.1 L470.6 311.5 L467.0 307.9 L463.4 304.2 L459.8 300.4 L456.1 296.6 L452.4 292.8 L448.7 288.9 L445.0 284.9 L441.3 280.9 L437.5 276.8 L433.7 272.7 L429.9 268.5 L426.1 264.2 L422.2 259.9 L418.4 255.5 L414.5 251.0 L410.5 246.4 L406.6 241.8 L402.6 237.1 L398.6 232.3 L394.6 227.5 L390.5 222.5 L387.8 219.2 L385.1 215.8 L382.3 212.4 L379.6 208.9 L376.8 205.4 L374.0 201.8 L371.3 198.2 L368.5 194.5 L365.6 190.8 L362.8 187.1 L360.0 183.3 L357.1 179.4 L354.3 175.5 L351.4 171.5 L348.5 167.5 L345.6 163.4 L342.7 159.3 L339.7 155.1 L336.8 150.8 L333.8 146.4 L330.9 142.0 L327.9 137.5 L324.9 133.0 L321.9 128.4 L318.8 123.6 L315.8 118.8 L312.7 114.0 L309.7 109.0 L306.6 104.0 L303.5 98.8 L300.4 93.6 L297.3 88.2 L294.1 82.8 L292.6 80.0" stroke="#a52a2a" stroke-width="0.95" stroke-dasharray="8.33 8.33"/>
<path d="M1000.4 640.8 L996.2 638.6 L992.0 636.3 L987.8 634.0 L983.6 631.8 L979.3 629.5 L975.1 627.1 L970.8 624.8 L966.5 622.4 L962.2 620.1 L957.8 617.7 L953.5 615.2 L949.1 612.8 L944.7 610.3 L940.3 607.9 L935.8 605.3 L931.3 602.8 L926.8 600.3 L922.3 597.7 L917.8 595.1 L913.2 592.5 L909.4 590.3 L905.6 588.0 L901.7 585.8 L897.8 583.5 L893.9 581.2 L890.0 578.9 L886.1 576.6 L882.2 574.3 L878.2 571.9 L874.2 569.6 L870.2 567.2 L866.2 564.7 L862.2 562.3 L858.1 559.8 L854.0 557.3 L849.9 554.8 L845.8 552.3 L841.7 549.8 L837.5 547.2 L833.4 544.6 L829.2 542.0 L825.0 539.3 L820.7 536.6 L816.5 533.9 L812.2 531.2 L807.9 528.5 L803.5 525.7 L799.2 522.9 L794.8 520.0 L790.4 517.2 L786.0 514.3 L781.5 511.3 L777.1 508.4 L772.6 505.4 L768.9 503.0 L765.3 500.5 L761.7 498.1 L758.0 495.6 L754.3 493.1 L750.6 490.5 L746.9 488.0 L743.2 485.4 L739.4 482.8 L735.6 480.2 L731.8 477.6 L728.0 474.9 L724.2 472.2 L720.3 469.5 L716.5 466.7 L712.6 463.9 L708.7 461.1 L704.8 458.3 L700.8 455.4 L696.8 452.5 L692.9 449.6 L688.8 446.6 L684.8 443.6 L680.8 440.6 L676.7 437.6 L672.6 434.5 L668.5 431.4 L664.3 428.2 L660.2 425.0 L656.0 421.8 L651.7 418.5 L647.5 415.2 L643.2 411.8 L638.9 408.5 L634.6 405.0 L630.3 401.6 L625.9 398.0 L621.5 394.5 L618.2 391.8 L614.9 389.0 L611.5 386.3 L608.2 383.5 L604.8 380.7 L601.4 377.8 L598.0 375.0 L594.6 372.1 L591.1 369.1 L587.6 366.2 L584.2 363.2 L580.7 360.2 L577.2 357.1 L573.6 354.0 L570.1 350.9 L566.5 347.7 L562.9 344.5 L559.3 341.3 L555.7 338.0 L552.0 334.7 L548.4 331.3 L544.7 327.9 L541.0 324.5 L537.2 321.0 L533.5 317.5 L529.7 313.9 L525.9 310.3 L522.1 306.6 L518.3 302.9 L514.4 299.2 L510.5 295.3 L506.6 291.5 L502.7 287.5 L498.8 283.6 L494.8 279.5 L490.8 275.4 L486.8 271.3 L482.7 267.0 L478.6 262.8 L474.5 258.4 L470.4 254.0 L466.2 249.5 L462.1 244.9 L457.9 240.3 L453.6 235.5 L450.8 232.3 L447.9 229.1 L445.1 225.8 L442.2 222.5 L439.3 219.2 L436.4 215.8 L433.4 212.4 L430.5 208.9 L427.6 205.4 L424.6 201.8 L421.6 198.2 L418.6 194.5 L415.6 190.8 L412.6 187.1 L409.6 183.3 L406.5 179.4 L403.5 175.5 L400.4 171.5 L397.3 167.5 L394.2 163.4 L391.1 159.3 L387.9 155.1 L384.8 150.8 L381.6 146.4 L378.4 142.0 L375.2 137.5 L372.0 133.0 L368.7 128.4 L365.5 123.6 L362.2 118.8 L358.9 114.0 L355.6 109.0 L352.3 104.0 L349.0 98.8 L345.6 93.6 L342.3 88.2 L338.9 82.8 L337.2 80.0" stroke="#a52a2a" stroke-width="0.95" stroke-dasharray="8.33 8.33"/>
<path d="M1000.6 599.0 L996.7 596.8 L992.7 594.6 L988.7 592.5 L984.8 590.3 L980.7 588.0 L976.7 585.8 L972.7 583.5 L968.6 581.2 L964.5 578.9 L960.4 576.6 L956.3 574.3 L952.2 571.9 L948.0 569.6 L943.8 567.2 L939.6 564.7 L935.4 562.3 L931.2 559.8 L926.9 557.3 L922.6 554.8 L918.3 552.3 L914.0 549.8 L909.6 547.2 L905.3 544.6 L900.9 542.0 L896.5 539.3 L892.0 536.6 L887.6 533.9 L883.1 531.2 L878.6 528.5 L874.1 525.7 L869.5 522.9 L864.9 520.0 L860.3 517.2 L856.6 514.8 L852.9 512.5 L849.2 510.1 L845.4 507.8 L841.6 505.4 L837.8 503.0 L834.0 500.5 L830.2 498.1 L826.4 495.6 L822.5 493.1 L818.6 490.5 L814.7 488.0 L810.8 485.4 L806.9 482.8 L802.9 480.2 L799.0 477.6 L795.0 474.9 L790.9 472.2 L786.9 469.5 L782.9 466.7 L778.8 463.9 L774.7 461.1 L770.6 458.3 L766.4 455.4 L762.3 452.5 L758.1 449.6 L753.9 446.6 L749.6 443.6 L745.4 440.6 L741.1 437.6 L736.8 434.5 L732.5 431.4 L728.1 428.2 L723.7 425.0 L719.3 421.8 L714.9 418.5 L710.5 415.2 L706.0 411.8 L701.5 408.5 L696.9 405.0 L693.5 402.4 L690.1 399.8 L686.6 397.1 L683.1 394.5 L679.7 391.8 L676.2 389.0 L672.6 386.3 L669.1 383.5 L665.6 380.7 L662.0 377.8 L658.4 375.0 L654.8 372.1 L651.2 369.1 L647.5 366.2 L643.8 363.2 L640.2 360.2 L636.5 357.1 L632.7 354.0 L629.0 350.9 L625.2 347.7 L621.5 344.5 L617.7 341.3 L613.8 338.0 L610.0 334.7 L606.1 331.3 L602.2 327.9 L598.3 324.5 L594.4 321.0 L590.4 317.5 L586.5 313.9 L582.5 310.3 L578.4 306.6 L574.4 302.9 L570.3 299.2 L566.2 295.3 L562.1 291.5 L557.9 287.5 L553.8 283.6 L549.5 279.5 L545.3 275.4 L541.1 271.3 L536.8 267.0 L532.5 262.8 L528.1 258.4 L523.7 254.0 L519.3 249.5 L514.9 244.9 L511.9 241.8 L509.0 238.7 L506.0 235.5 L502.9 232.3 L499.9 229.1 L496.9 225.8 L493.8 222.5 L490.7 219.2 L487.7 215.8 L484.6 212.4 L481.4 208.9 L478.3 205.4 L475.2 201.8 L472.0 198.2 L468.8 194.5 L465.6 190.8 L462.4 187.1 L459.2 183.3 L455.9 179.4 L452.7 175.5 L449.4 171.5 L446.1 167.5 L442.8 163.4 L439.5 159.3 L436.1 155.1 L432.7 150.8 L429.4 146.4 L426.0 142.0 L422.5 137.5 L419.1 133.0 L415.6 128.4 L412.2 123.6 L408.7 118.8 L405.1 114.0 L401.6 109.0 L398.0 104.0 L394.5 98.8 L390.9 93.6 L387.3 88.2 L383.6 82.8 L381.8 80.0" stroke="#a52a2a" stroke-width="0.95" stroke-dasharray="8.33 8.33"/>
<path d="M1000.6 557.8 L996.2 555.3 L991.7 552.8 L987.2 550.3 L982.7 547.7 L978.1 545.1 L973.5 542.5 L968.9 539.8 L964.3 537.2 L959.6 534.5 L955.0 531.8 L950.3 529.0 L945.5 526.2 L941.7 524.0 L937.9 521.7 L934.1 519.4 L930.2 517.2 L926.4 514.8 L922.5 512.5 L918.6 510.1 L914.6 507.8 L910.7 505.4 L906.7 503.0 L902.8 500.5 L898.8 498.1 L894.7 495.6 L890.7 493.1 L886.7 490.5 L882.6 488.0 L878.5 485.4 L874.4 482.8 L870.2 480.2 L866.1 477.6 L861.9 474.9 L857.7 472.2 L853.5 469.5 L849.2 466.7 L845.0 463.9 L840.7 461.1 L836.4 458.3 L832.0 455.4 L827.7 452.5 L823.3 449.6 L818.9 446.6 L814.5 443.6 L810.0 440.6 L805.5 437.6 L801.0 434.5 L796.5 431.4 L791.9 428.2 L787.3 425.0 L782.7 421.8 L778.1 418.5 L773.4 415.2 L769.9 412.7 L766.4 410.2 L762.8 407.6 L759.2 405.0 L755.6 402.4 L752.0 399.8 L748.4 397.1 L744.8 394.5 L741.1 391.8 L737.4 389.0 L733.8 386.3 L730.0 383.5 L726.3 380.7 L722.6 377.8 L718.8 375.0 L715.0 372.1 L711.2 369.1 L707.4 366.2 L703.5 363.2 L699.7 360.2 L695.8 357.1 L691.9 354.0 L687.9 350.9 L684.0 347.7 L680.0 344.5 L676.0 341.3 L672.0 338.0 L667.9 334.7 L663.9 331.3 L659.8 327.9 L655.7 324.5 L651.5 321.0 L647.4 317.5 L643.2 313.9 L639.0 310.3 L634.7 306.6 L630.5 302.9 L626.2 299.2 L621.9 295.3 L617.5 291.5 L613.1 287.5 L608.7 283.6 L604.3 279.5 L599.9 275.4 L595.4 271.3 L590.8 267.0 L586.3 262.8 L581.7 258.4 L578.6 255.5 L575.5 252.5 L572.4 249.5 L569.3 246.4 L566.2 243.4 L563.1 240.3 L559.9 237.1 L556.7 234.0 L553.5 230.7 L550.3 227.5 L547.1 224.2 L543.8 220.9 L540.6 217.5 L537.3 214.1 L534.0 210.6 L530.7 207.1 L527.4 203.6 L524.1 200.0 L520.7 196.4 L517.3 192.7 L513.9 189.0 L510.5 185.2 L507.1 181.4 L503.6 177.5 L500.2 173.5 L496.7 169.5 L493.2 165.5 L489.6 161.3 L486.1 157.2 L482.5 152.9 L478.9 148.6 L475.3 144.2 L471.7 139.8 L468.0 135.3 L464.4 130.7 L460.7 126.0 L456.9 121.3 L453.2 116.4 L449.5 111.5 L445.7 106.5 L441.9 101.4 L438.0 96.2 L434.2 90.9 L430.3 85.5 L426.4 80.0" stroke="#a52a2a" stroke-width="0.95" stroke-dasharray="8.33 8.33"/>
<path d="M1000.1 517.2 L996.1 514.8 L992.0 512.5 L988.0 510.1 L983.9 507.8 L979.8 505.4 L975.6 503.0 L971.5 500.5 L967.3 498.1 L963.1 495.6 L958.9 493.1 L954.7 490.5 L950.4 488.0 L946.2 485.4 L941.9 482.8 L937.5 480.2 L933.2 477.6 L928.8 474.9 L924.5 472.2 L920.0 469.5 L915.6 466.7 L911.2 463.9 L906.7 461.1 L902.2 458.3 L897.6 455.4 L893.1 452.5 L888.5 449.6 L883.9 446.6 L879.3 443.6 L874.6 440.6 L869.9 437.6 L865.2 434.5 L860.5 431.4 L855.7 428.2 L850.9 425.0 L847.3 422.6 L843.7 420.1 L840.0 417.7 L836.4 415.2 L832.7 412.7 L829.0 410.2 L825.3 407.6 L821.5 405.0 L817.8 402.4 L814.0 399.8 L810.2 397.1 L806.4 394.5 L802.6 391.8 L798.7 389.0 L794.9 386.3 L791.0 383.5 L787.1 380.7 L783.1 377.8 L779.2 375.0 L775.2 372.1 L771.2 369.1 L767.2 366.2 L763.2 363.2 L759.2 360.2 L755.1 357.1 L751.0 354.0 L746.9 350.9 L742.7 347.7 L738.5 344.5 L734.4 341.3 L730.1 338.0 L725.9 334.7 L721.6 331.3 L717.3 327.9 L713.0 324.5 L708.7 321.0 L704.3 317.5 L699.9 313.9 L695.5 310.3 L691.0 306.6 L686.6 302.9 L682.1 299.2 L677.5 295.3 L673.0 291.5 L668.4 287.5 L663.7 283.6 L659.1 279.5 L654.4 275.4 L649.7 271.3 L644.9 267.0 L641.7 264.2 L638.5 261.3 L635.3 258.4 L632.1 255.5 L628.8 252.5 L625.5 249.5 L622.3 246.4 L619.0 243.4 L615.6 240.3 L612.3 237.1 L609.0 234.0 L605.6 230.7 L602.2 227.5 L598.8 224.2 L595.4 220.9 L592.0 217.5 L588.5 214.1 L585.0 210.6 L581.6 207.1 L578.0 203.6 L574.5 200.0 L571.0 196.4 L567.4 192.7 L563.8 189.0 L560.2 185.2 L556.6 181.4 L552.9 177.5 L549.3 173.5 L545.6 169.5 L541.9 165.5 L538.1 161.3 L534.4 157.2 L530.6 152.9 L526.8 148.6 L523.0 144.2 L519.1 139.8 L515.3 135.3 L511.4 130.7 L507.4 126.0 L503.5 121.3 L499.5 116.4 L495.5 111.5 L491.5 106.5 L487.5 101.4 L483.4 96.2 L479.3 90.9 L475.2 85.5 L471.0 80.0" stroke="#a52a2a" stroke-width="0.95" stroke-dasharray="8.33 8.33"/>
<path d="M1000.3 477.6 L995.8 474.9 L991.2 472.2 L986.6 469.5 L982.0 466.7 L977.3 463.9 L972.7 461.1 L968.0 458.3 L963.3 455.4 L958.5 452.5 L953.7 449.6 L948.9 446.6 L944.1 443.6 L939.3 440.6 L934.4 437.6 L929.4 434.5 L925.7 432.1 L922.0 429.8 L918.3 427.4 L914.5 425.0 L910.8 422.6 L907.0 420.1 L903.2 417.7 L899.3 415.2 L895.5 412.7 L891.6 410.2 L887.7 407.6 L883.8 405.0 L879.9 402.4 L876.0 399.8 L872.0 397.1 L868.0 394.5 L864.0 391.8 L860.0 389.0 L856.0 386.3 L851.9 383.5 L847.8 380.7 L843.7 377.8 L839.6 375.0 L835.5 372.1 L831.3 369.1 L827.1 366.2 L822.9 363.2 L818.6 360.2 L814.4 357.1 L810.1 354.0 L805.8 350.9 L801.5 347.7 L797.1 344.5 L792.7 341.3 L788.3 338.0 L783.9 334.7 L779.4 331.3 L774.9 327.9 L770.4 324.5 L765.8 321.0 L761.3 317.5 L756.7 313.9 L752.0 310.3 L747.4 306.6 L742.7 302.9 L737.9 299.2 L733.2 295.3 L728.4 291.5 L723.6 287.5 L718.7 283.6 L713.8 279.5 L710.6 276.8 L707.3 274.0 L704.0 271.3 L700.6 268.5 L697.3 265.6 L693.9 262.8 L690.6 259.9 L687.2 256.9 L683.8 254.0 L680.4 251.0 L676.9 248.0 L673.5 244.9 L670.0 241.8 L666.5 238.7 L663.0 235.5 L659.5 232.3 L655.9 229.1 L652.3 225.8 L648.8 222.5 L645.2 219.2 L641.5 215.8 L637.9 212.4 L634.2 208.9 L630.5 205.4 L626.8 201.8 L623.1 198.2 L619.4 194.5 L615.6 190.8 L611.8 187.1 L608.0 183.3 L604.2 179.4 L600.3 175.5 L596.4 171.5 L592.5 167.5 L588.6 163.4 L584.7 159.3 L580.7 155.1 L576.7 150.8 L572.6 146.4 L568.6 142.0 L564.5 137.5 L560.4 133.0 L556.3 128.4 L552.1 123.6 L547.9 118.8 L543.7 114.0 L539.5 109.0 L535.2 104.0 L530.9 98.8 L526.6 93.6 L522.2 88.2 L517.8 82.8 L515.6 80.0" stroke="#a52a2a" stroke-width="0.95" stroke-dasharray="8.33 8.33"/>
<path d="M1000.1 438.3 L996.2 436.0 L992.4 433.7 L988.5 431.4 L984.6 429.0 L980.7 426.6 L976.8 424.2 L972.9 421.8 L968.9 419.3 L964.9 416.9 L960.9 414.4 L956.9 411.8 L952.9 409.3 L948.8 406.7 L944.8 404.2 L940.7 401.6 L936.6 398.9 L932.4 396.3 L928.3 393.6 L924.1 390.9 L919.9 388.1 L915.7 385.4 L911.4 382.6 L907.2 379.7 L902.9 376.9 L898.6 374.0 L894.2 371.1 L889.9 368.2 L885.5 365.2 L881.1 362.2 L876.7 359.1 L872.2 356.1 L867.7 353.0 L863.2 349.8 L858.7 346.6 L854.1 343.4 L849.5 340.2 L844.9 336.9 L840.3 333.6 L835.6 330.2 L830.9 326.8 L826.2 323.3 L821.4 319.8 L816.6 316.3 L811.8 312.7 L806.9 309.1 L802.0 305.4 L797.1 301.7 L792.2 297.9 L787.2 294.1 L782.2 290.2 L777.1 286.2 L773.7 283.6 L770.3 280.9 L766.9 278.2 L763.5 275.4 L760.0 272.7 L756.5 269.9 L753.0 267.0 L749.5 264.2 L746.0 261.3 L742.5 258.4 L738.9 255.5 L735.3 252.5 L731.7 249.5 L728.1 246.4 L724.5 243.4 L720.8 240.3 L717.2 237.1 L713.5 234.0 L709.8 230.7 L706.0 227.5 L702.3 224.2 L698.5 220.9 L694.7 217.5 L690.9 214.1 L687.1 210.6 L683.2 207.1 L679.4 203.6 L675.5 200.0 L671.5 196.4 L667.6 192.7 L663.6 189.0 L659.6 185.2 L655.6 181.4 L651.6 177.5 L647.5 173.5 L643.4 169.5 L639.3 165.5 L635.1 161.3 L631.0 157.2 L626.8 152.9 L622.5 148.6 L618.3 144.2 L614.0 139.8 L609.7 135.3 L605.3 130.7 L601.0 126.0 L596.6 121.3 L592.1 116.4 L587.7 111.5 L583.2 106.5 L578.7 101.4 L574.1 96.2 L569.5 90.9 L564.9 85.5 L560.2 80.0" stroke="#a52a2a" stroke-width="0.95" stroke-dasharray="8.33 8.33"/>
<path d="M999.9 399.8 L995.6 397.1 L991.3 394.5 L987.0 391.8 L982.6 389.0 L978.2 386.3 L973.8 383.5 L969.4 380.7 L964.9 377.8 L960.4 375.0 L955.9 372.1 L951.4 369.1 L946.8 366.2 L942.2 363.2 L937.6 360.2 L933.0 357.1 L928.3 354.0 L923.6 350.9 L918.9 347.7 L914.2 344.5 L909.4 341.3 L904.6 338.0 L899.8 334.7 L894.9 331.3 L890.0 327.9 L885.1 324.5 L880.1 321.0 L875.1 317.5 L870.1 313.9 L865.1 310.3 L860.0 306.6 L854.9 302.9 L849.7 299.2 L844.5 295.3 L841.0 292.8 L837.5 290.2 L834.0 287.5 L830.5 284.9 L826.9 282.2 L823.4 279.5 L819.8 276.8 L816.2 274.0 L812.6 271.3 L808.9 268.5 L805.3 265.6 L801.6 262.8 L797.9 259.9 L794.2 256.9 L790.5 254.0 L786.7 251.0 L783.0 248.0 L779.2 244.9 L775.4 241.8 L771.5 238.7 L767.7 235.5 L763.8 232.3 L759.9 229.1 L756.0 225.8 L752.1 222.5 L748.1 219.2 L744.1 215.8 L740.1 212.4 L736.1 208.9 L732.0 205.4 L728.0 201.8 L723.9 198.2 L719.7 194.5 L715.6 190.8 L711.4 187.1 L707.2 183.3 L703.0 179.4 L698.7 175.5 L694.5 171.5 L690.1 167.5 L685.8 163.4 L681.4 159.3 L677.1 155.1 L672.6 150.8 L668.2 146.4 L663.7 142.0 L659.2 137.5 L654.6 133.0 L650.1 128.4 L645.4 123.6 L640.8 118.8 L636.1 114.0 L631.4 109.0 L626.7 104.0 L621.9 98.8 L617.1 93.6 L612.2 88.2 L607.3 82.8 L604.8 80.0" stroke="#a52a2a" stroke-width="0.95" stroke-dasharray="8.33 8.33"/>
<path d="M1000.3 362.2 L995.5 359.1 L990.7 356.1 L985.8 353.0 L980.9 349.8 L976.0 346.6 L971.1 343.4 L966.1 340.2 L961.1 336.9 L956.0 333.6 L951.0 330.2 L945.9 326.8 L940.7 323.3 L935.6 319.8 L930.3 316.3 L925.1 312.7 L919.8 309.1 L914.5 305.4 L911.0 302.9 L907.4 300.4 L903.8 297.9 L900.2 295.3 L896.5 292.8 L892.9 290.2 L889.2 287.5 L885.5 284.9 L881.8 282.2 L878.1 279.5 L874.4 276.8 L870.6 274.0 L866.9 271.3 L863.1 268.5 L859.3 265.6 L855.4 262.8 L851.6 259.9 L847.7 256.9 L843.8 254.0 L839.9 251.0 L836.0 248.0 L832.0 244.9 L828.0 241.8 L824.0 238.7 L820.0 235.5 L816.0 232.3 L811.9 229.1 L807.8 225.8 L803.7 222.5 L799.6 219.2 L795.4 215.8 L791.2 212.4 L787.0 208.9 L782.8 205.4 L778.5 201.8 L774.2 198.2 L769.9 194.5 L765.6 190.8 L761.2 187.1 L756.8 183.3 L752.4 179.4 L747.9 175.5 L743.5 171.5 L739.0 167.5 L734.4 163.4 L729.8 159.3 L725.2 155.1 L720.6 150.8 L715.9 146.4 L711.2 142.0 L706.5 137.5 L701.7 133.0 L696.9 128.4 L692.1 123.6 L687.2 118.8 L682.3 114.0 L677.4 109.0 L672.4 104.0 L667.4 98.8 L662.3 93.6 L657.2 88.2 L652.0 82.8 L649.5 80.0" stroke="#a52a2a" stroke-width="0.95" stroke-dasharray="8.33 8.33"/>
<path d="M390.7 720.0 L387.3 715.8 L383.7 711.5 L380.1 707.2 L376.3 702.8 L372.5 698.3 L368.5 693.8 L364.4 689.2 L360.1 684.5 L357.3 681.3 L354.3 678.1 L351.3 674.8 L348.3 671.5 L345.2 668.2 L342.0 664.8 L338.8 661.4 L335.5 658.0 L332.2 654.5 L328.8 650.9 L325.3 647.4 L321.8 643.7 L318.2 640.0 L314.6 636.3 L310.9 632.5 L307.1 628.7 L303.3 624.8 L299.4 620.9 L295.4 616.9 L291.4 612.8 L287.2 608.7 L283.1 604.5 L278.8 600.3 L274.5 596.0 L270.2 591.6 L265.7 587.1 L261.3 582.6 L256.7 578.0 L252.1 573.3 L247.4 568.6 L242.7 563.8 L237.9 558.8 L233.0 553.8 L228.1 548.7 L223.1 543.5 L218.0 538.2 L212.9 532.8 L207.7 527.3 L202.4 521.7 L197.0 516.0 L191.6 510.1 L186.1 504.2 L180.6 498.1 L174.8 491.8 L171.9 488.6 L168.9 485.4 L166.0 482.2 L163.0 478.9 L160.0 475.6 L157.0 472.2 L154.0 468.8 L151.0 465.3 L147.9 461.8 L144.9 458.3 L141.8 454.7 L138.7 451.1 L135.6 447.4 L132.5 443.6 L129.3 439.9 L126.3 436.0 L123.2 432.1 L120.1 428.2 L117.0 424.2 L113.9 420.1 L110.8 416.0 L107.6 411.8 L104.4 407.6 L101.3 403.3 L98.1 398.9 L94.8 394.5 L91.6 390.0 L88.4 385.4 L85.1 380.7 L81.7 375.9 L78.4 371.1 L75.0 366.2 L71.6 361.2 L68.2 356.1 L64.8 350.9 L61.4 345.6 L57.9 340.2 L54.4 334.7 L51.0 329.1 L47.4 323.3 L43.9 317.5 L40.3 311.5 L36.8 305.4 L33.2 299.2 L29.5 292.8 L25.8 286.2 L22.1 279.5 L18.4 272.7 L14.7 265.6 L10.9 258.4 L7.1 251.0 L3.3 243.4 L-0.5 235.5 L-4.3 227.5" stroke="#008000" stroke-width="0.90" stroke-dasharray="1.39 4.17"/>
<path d="M477.2 720.0 L474.8 715.8 L472.2 711.5 L469.6 707.2 L466.8 702.8 L464.0 698.3 L461.0 693.8 L457.9 689.2 L454.6 684.5 L451.1 679.7 L447.6 674.8 L443.9 669.9 L440.0 664.8 L437.3 661.4 L434.6 658.0 L431.9 654.5 L429.1 650.9 L426.2 647.4 L423.3 643.7 L420.2 640.0 L417.1 636.3 L413.9 632.5 L410.7 628.7 L407.3 624.8 L403.9 620.9 L400.3 616.9 L396.6 612.8 L392.9 608.7 L389.0 604.5 L385.1 600.3 L381.1 596.0 L376.9 591.6 L372.7 587.1 L368.4 582.6 L363.9 578.0 L359.4 573.3 L354.8 568.6 L350.1 563.8 L345.3 558.8 L340.5 553.8 L335.6 548.7 L330.5 543.5 L325.4 538.2 L320.2 532.8 L314.9 527.3 L309.3 521.7 L303.6 516.0 L297.9 510.1 L292.0 504.2 L289.1 501.1 L286.1 498.1 L283.1 495.0 L280.0 491.8 L277.0 488.6 L273.9 485.4 L270.8 482.2 L267.6 478.9 L264.5 475.6 L261.3 472.2 L258.1 468.8 L254.8 465.3 L251.4 461.8 L247.9 458.3 L244.4 454.7 L240.9 451.1 L237.3 447.4 L233.7 443.6 L230.1 439.9 L226.6 436.0 L223.2 432.1 L219.8 428.2 L216.3 424.2 L212.8 420.1 L209.3 416.0 L205.7 411.8 L202.2 407.6 L198.6 403.3 L195.0 398.9 L191.3 394.5 L187.6 390.0 L184.0 385.4 L180.3 380.7 L176.6 375.9 L172.9 371.1 L169.2 366.2 L165.4 361.2 L161.6 356.1 L157.8 350.9 L153.7 345.6 L149.4 340.2 L145.1 334.7 L140.8 329.1 L136.4 323.3 L132.0 317.5 L127.5 311.5 L123.0 305.4 L118.4 299.2 L113.7 292.8 L109.0 286.2 L104.3 279.5 L99.5 272.7 L95.1 265.6 L90.7 258.4 L86.2 251.0 L81.8 243.4 L77.2 235.5 L72.7 227.5 L68.1 219.2 L63.6 210.6 L59.2 201.8 L54.8 192.7 L50.4 183.3 L46.0 173.5 L41.5 163.4 L37.0 152.9 L32.4 142.0 L27.8 130.7 L23.1 118.8 L18.5 106.5 L13.8 93.6 L9.2 80.0" stroke="#008000" stroke-width="0.90" stroke-dasharray="1.39 4.17"/>
<path d="M561.8 720.0 L559.9 714.4 L557.9 708.7 L555.8 702.8 L554.1 698.3 L552.4 693.8 L550.5 689.2 L548.6 684.5 L546.7 679.7 L544.6 674.8 L542.4 669.9 L540.1 664.8 L537.7 659.7 L535.2 654.5 L532.6 649.2 L529.8 643.7 L526.9 638.2 L523.8 632.5 L520.6 626.8 L518.3 622.8 L516.0 618.9 L513.5 614.8 L511.0 610.8 L508.4 606.6 L505.8 602.4 L503.0 598.1 L500.1 593.8 L497.1 589.4 L494.0 584.9 L490.7 580.3 L487.4 575.7 L483.9 571.0 L480.3 566.2 L476.6 561.3 L472.7 556.3 L468.7 551.3 L464.6 546.1 L460.3 540.9 L455.8 535.6 L451.2 530.1 L446.3 524.5 L441.1 518.9 L435.7 513.1 L430.2 507.2 L424.4 501.1 L421.5 498.1 L418.5 495.0 L415.5 491.8 L412.4 488.6 L409.3 485.4 L406.1 482.2 L402.9 478.9 L399.7 475.6 L396.4 472.2 L393.0 468.8 L389.6 465.3 L386.2 461.8 L382.7 458.3 L379.1 454.7 L375.5 451.1 L371.9 447.4 L368.2 443.6 L364.5 439.9 L360.7 436.0 L356.9 432.1 L353.1 428.2 L349.2 424.2 L345.3 420.1 L341.3 416.0 L337.3 411.8 L333.2 407.6 L329.1 403.3 L324.9 398.9 L320.7 394.5 L316.5 390.0 L312.2 385.4 L307.9 380.7 L303.6 375.9 L299.2 371.1 L294.8 366.2 L290.4 361.2 L285.9 356.1 L281.4 350.9 L276.6 345.6 L271.8 340.2 L267.0 334.7 L262.1 329.1 L257.1 323.3 L252.1 317.5 L246.9 311.5 L241.5 305.4 L236.0 299.2 L230.4 292.8 L224.8 286.2 L219.2 279.5 L213.8 272.7 L208.7 265.6 L203.7 258.4 L198.6 251.0 L193.4 243.4 L188.2 235.5 L183.0 227.5 L177.7 219.2 L172.5 210.6 L167.2 201.8 L161.9 192.7 L156.6 183.3 L151.2 173.5 L145.7 163.4 L140.3 152.9 L134.2 142.0 L127.8 130.7 L121.9 118.8 L116.0 106.5 L110.2 93.6 L104.3 80.0" stroke="#008000" stroke-width="0.90" stroke-dasharray="1.39 4.17"/>
<path d="M596.6 720.0 L595.2 714.4 L593.7 708.7 L592.2 702.8 L590.5 696.8 L588.8 690.7 L587.4 686.0 L586.0 681.3 L584.4 676.5 L582.9 671.5 L581.2 666.5 L579.4 661.4 L577.6 656.2 L575.6 650.9 L573.6 645.5 L571.4 640.0 L569.1 634.4 L566.7 628.7 L564.2 622.8 L561.5 616.9 L558.6 610.8 L556.6 606.6 L554.5 602.4 L552.3 598.1 L550.0 593.8 L547.7 589.4 L545.2 584.9 L542.6 580.3 L540.0 575.7 L537.2 571.0 L534.3 566.2 L531.2 561.3 L528.1 556.3 L524.8 551.3 L521.3 546.1 L517.7 540.9 L513.9 535.6 L510.0 530.1 L505.8 524.5 L501.3 518.9 L496.6 513.1 L491.7 507.2 L486.6 501.1 L481.3 495.0 L475.7 488.6 L472.9 485.4 L470.0 482.2 L467.0 478.9 L464.0 475.6 L460.9 472.2 L457.7 468.8 L454.5 465.3 L451.2 461.8 L447.8 458.3 L444.4 454.7 L440.9 451.1 L437.3 447.4 L433.7 443.6 L430.0 439.9 L426.3 436.0 L422.5 432.1 L418.6 428.2 L414.7 424.2 L410.7 420.1 L406.6 416.0 L402.5 411.8 L398.4 407.6 L394.1 403.3 L389.8 398.9 L385.5 394.5 L381.0 390.0 L376.6 385.4 L372.0 380.7 L367.5 375.9 L362.8 371.1 L358.1 366.2 L353.4 361.2 L348.6 356.1 L343.7 350.9 L338.8 345.6 L333.8 340.2 L328.7 334.7 L323.6 329.1 L318.2 323.3 L312.7 317.5 L307.2 311.5 L301.6 305.4 L295.9 299.2 L290.2 292.8 L284.4 286.2 L278.6 279.5 L272.7 272.7 L267.2 265.6 L261.6 258.4 L256.0 251.0 L250.3 243.4 L244.5 235.5 L238.7 227.5 L232.8 219.2 L227.0 210.6 L221.4 201.8 L215.7 192.7 L209.9 183.3 L204.2 173.5 L198.3 163.4 L192.4 152.9 L186.2 142.0 L179.8 130.7 L173.3 118.8 L166.8 106.5 L160.2 93.6 L153.6 80.0" stroke="#008000" stroke-width="0.90" stroke-dasharray="1.39 4.17"/>
<path d="M630.5 720.0 L629.6 714.4 L628.8 708.7 L627.8 702.8 L626.8 696.8 L625.8 690.7 L624.6 684.5 L623.4 678.1 L622.1 671.5 L621.0 666.5 L619.9 661.4 L618.8 656.2 L617.5 650.9 L616.2 645.5 L614.8 640.0 L613.3 634.4 L611.7 628.7 L610.0 622.8 L608.3 616.9 L606.4 610.8 L604.3 604.5 L602.2 598.1 L599.8 591.6 L598.2 587.1 L596.5 582.6 L594.7 578.0 L592.8 573.3 L590.8 568.6 L588.8 563.8 L586.6 558.8 L584.3 553.8 L581.9 548.7 L579.3 543.5 L576.7 538.2 L573.9 532.8 L570.9 527.3 L567.5 521.7 L563.8 516.0 L560.0 510.1 L556.0 504.2 L551.8 498.1 L547.4 491.8 L542.7 485.4 L537.8 478.9 L532.6 472.2 L529.9 468.8 L527.2 465.3 L524.3 461.8 L521.3 458.3 L518.3 454.7 L515.2 451.1 L512.0 447.4 L508.7 443.6 L505.4 439.9 L502.0 436.0 L498.5 432.1 L494.9 428.2 L491.2 424.2 L487.5 420.1 L483.6 416.0 L479.7 411.8 L475.7 407.6 L471.6 403.3 L467.4 398.9 L463.2 394.5 L458.8 390.0 L454.3 385.4 L449.8 380.7 L445.3 375.9 L440.6 371.1 L435.9 366.2 L431.0 361.2 L426.1 356.1 L421.1 350.9 L416.0 345.6 L410.8 340.2 L405.5 334.7 L400.1 329.1 L394.4 323.3 L388.5 317.5 L382.6 311.5 L376.6 305.4 L370.5 299.2 L364.3 292.8 L358.2 286.2 L352.0 279.5 L345.6 272.7 L339.7 265.6 L333.7 258.4 L327.7 251.0 L321.7 243.4 L315.5 235.5 L309.3 227.5 L303.0 219.2 L296.7 210.6 L290.2 201.8 L283.7 192.7 L276.9 183.3 L269.8 173.5 L262.6 163.4 L255.5 152.9 L248.7 142.0 L241.8 130.7 L234.8 118.8 L227.7 106.5 L220.6 93.6 L213.4 80.0" stroke="#008000" stroke-width="0.90" stroke-dasharray="1.39 4.17"/>
<path d="M665.0 720.0 L664.5 714.4 L663.9 708.7 L663.3 702.8 L662.7 696.8 L662.0 690.7 L661.3 684.5 L660.5 678.1 L659.6 671.5 L658.7 664.8 L657.7 658.0 L656.8 650.9 L656.0 645.5 L655.3 640.0 L654.4 634.4 L653.5 628.7 L652.5 622.8 L651.5 616.9 L650.4 610.8 L649.1 604.5 L647.8 598.1 L646.4 591.6 L644.9 584.9 L643.3 578.0 L641.5 571.0 L640.2 566.2 L638.8 561.3 L637.4 556.3 L635.9 551.3 L634.3 546.1 L632.6 540.9 L630.8 535.6 L628.9 530.1 L626.9 524.5 L624.5 518.9 L622.1 513.1 L619.5 507.2 L616.7 501.1 L613.8 495.0 L610.7 488.6 L607.3 482.2 L603.8 475.6 L600.0 468.8 L595.9 461.8 L591.5 454.7 L586.8 447.4 L584.3 443.6 L581.7 439.9 L579.1 436.0 L576.4 432.1 L573.5 428.2 L570.6 424.2 L567.6 420.1 L564.5 416.0 L561.3 411.8 L558.0 407.6 L554.6 403.3 L551.0 398.9 L547.4 394.5 L543.6 390.0 L539.8 385.4 L535.8 380.7 L531.8 375.9 L527.6 371.1 L523.3 366.2 L518.8 361.2 L514.3 356.1 L509.6 350.9 L504.7 345.6 L499.8 340.2 L494.6 334.7 L488.8 329.1 L482.9 323.3 L476.9 317.5 L470.7 311.5 L464.4 305.4 L458.3 299.2 L452.2 292.8 L446.1 286.2 L439.8 279.5 L433.3 272.7 L427.2 265.6 L420.9 258.4 L414.5 251.0 L408.0 243.4 L400.8 235.5 L393.6 227.5 L386.2 219.2 L378.7 210.6 L371.1 201.8 L363.5 192.7 L355.7 183.3 L347.8 173.5 L339.8 163.4 L331.8 152.9 L324.1 142.0 L316.4 130.7 L308.5 118.8 L300.5 106.5 L292.4 93.6 L284.2 80.0" stroke="#008000" stroke-width="0.90" stroke-dasharray="1.39 4.17"/>
<path d="M699.4 720.0 L699.2 713.0 L699.0 705.7 L698.8 699.8 L698.5 693.8 L698.3 687.6 L698.0 681.3 L697.6 674.8 L697.3 668.2 L696.9 661.4 L696.6 654.5 L696.3 647.4 L696.1 640.0 L695.7 632.5 L695.4 626.8 L695.1 620.9 L694.7 614.8 L694.3 608.7 L693.8 602.4 L693.3 596.0 L692.7 589.4 L692.1 582.6 L691.4 575.7 L690.5 568.6 L689.6 561.3 L688.6 553.8 L687.5 546.1 L686.7 540.9 L685.8 535.6 L684.9 530.1 L683.8 524.5 L682.5 518.9 L681.2 513.1 L679.7 507.2 L678.1 501.1 L676.5 495.0 L674.7 488.6 L672.7 482.2 L670.6 475.6 L668.4 468.8 L666.0 461.8 L663.3 454.7 L660.4 447.4 L657.3 439.9 L653.9 432.1 L650.3 424.2 L648.3 420.1 L646.3 416.0 L644.2 411.8 L642.0 407.6 L639.7 403.3 L637.3 398.9 L634.7 394.5 L632.1 390.0 L629.4 385.4 L626.4 380.7 L623.3 375.9 L620.0 371.1 L616.6 366.2 L613.1 361.2 L609.4 356.1 L605.5 350.9 L601.5 345.6 L597.3 340.2 L592.8 334.7 L587.9 329.1 L582.7 323.3 L577.4 317.5 L571.9 311.5 L566.1 305.4 L560.2 299.2 L554.0 292.8 L547.6 286.2 L541.0 279.5 L534.3 272.7 L528.3 265.6 L522.1 258.4 L515.8 251.0 L509.2 243.4 L502.4 235.5 L495.4 227.5 L488.2 219.2 L480.9 210.6 L473.3 201.8 L465.6 192.7 L457.7 183.3 L449.6 173.5 L441.4 163.4 L432.9 152.9 L423.5 142.0 L413.9 130.7 L404.1 118.8 L394.6 106.5 L385.0 93.6 L375.2 80.0" stroke="#008000" stroke-width="0.90" stroke-dasharray="1.39 4.17"/>
<path d="M741.2 720.0 L741.7 713.0 L742.0 707.2 L742.3 701.3 L742.7 695.3 L743.0 689.2 L743.3 682.9 L743.7 676.5 L744.0 669.9 L744.3 663.1 L744.7 656.2 L745.1 649.2 L745.5 641.9 L746.0 634.4 L746.3 628.7 L746.6 622.8 L746.8 616.9 L747.1 610.8 L747.4 604.5 L747.6 598.1 L747.9 591.6 L748.1 584.9 L748.2 578.0 L748.4 571.0 L748.5 563.8 L748.6 556.3 L748.7 548.7 L748.7 540.9 L748.6 532.8 L748.5 524.5 L748.2 516.0 L747.9 510.1 L747.6 504.2 L747.2 498.1 L746.8 491.8 L746.4 485.4 L745.8 478.9 L745.2 472.2 L744.5 465.3 L743.8 458.3 L742.9 451.1 L742.0 443.6 L740.8 436.0 L739.4 428.2 L737.9 420.1 L736.2 411.8 L734.3 403.3 L732.2 394.5 L729.9 385.4 L728.5 380.7 L727.1 375.9 L725.6 371.1 L724.0 366.2 L722.2 361.2 L720.4 356.1 L718.4 350.9 L716.3 345.6 L714.1 340.2 L711.7 334.7 L709.2 329.1 L706.6 323.3 L703.7 317.5 L700.7 311.5 L697.3 305.4 L693.5 299.2 L689.5 292.8 L685.2 286.2 L680.7 279.5 L675.9 272.7 L670.9 265.6 L665.8 258.4 L660.9 251.0 L655.6 243.4 L649.9 235.5 L644.0 227.5 L637.8 219.2 L631.2 210.6 L624.2 201.8 L616.6 192.7 L608.3 183.3 L599.7 173.5 L590.7 163.4 L581.3 152.9 L571.5 142.0 L561.3 130.7 L550.7 118.8 L540.0 106.5 L528.9 93.6 L517.5 80.0" stroke="#008000" stroke-width="0.90" stroke-dasharray="1.39 4.17"/>
<path d="M776.1 720.0 L776.7 714.4 L777.3 708.7 L777.9 702.8 L778.5 696.8 L779.2 690.7 L779.8 684.5 L780.5 678.1 L781.1 671.5 L781.7 664.8 L782.3 658.0 L783.2 650.9 L783.9 645.5 L784.6 640.0 L785.3 634.4 L786.0 628.7 L786.8 622.8 L787.5 616.9 L788.2 610.8 L788.9 604.5 L789.6 598.1 L790.3 591.6 L791.1 584.9 L791.8 578.0 L792.5 571.0 L793.3 563.8 L794.0 556.3 L794.8 548.7 L795.5 540.9 L796.2 532.8 L796.9 524.5 L797.4 518.9 L797.8 513.1 L798.2 507.2 L798.6 501.1 L799.0 495.0 L799.4 488.6 L799.7 482.2 L800.1 475.6 L800.4 468.8 L800.7 461.8 L800.9 454.7 L801.2 447.4 L801.3 439.9 L801.3 432.1 L801.3 424.2 L801.1 416.0 L800.9 407.6 L800.6 398.9 L800.2 390.0 L799.7 380.7 L799.0 371.1 L798.2 361.2 L797.2 350.9 L796.0 340.2 L795.1 334.7 L794.0 329.1 L792.8 323.3 L791.6 317.5 L790.3 311.5 L788.9 305.4 L787.4 299.2 L785.8 292.8 L784.4 286.2 L782.7 279.5 L781.0 272.7 L779.1 265.6 L777.1 258.4 L774.8 251.0 L771.8 243.4 L768.5 235.5 L764.9 227.5 L760.8 219.2 L756.4 210.6 L751.6 201.8 L746.3 192.7 L740.8 183.3 L735.1 173.5 L728.7 163.4 L721.8 152.9 L714.1 142.0 L705.8 130.7 L696.6 118.8 L686.9 106.5 L676.6 93.6 L665.5 80.0" stroke="#008000" stroke-width="0.90" stroke-dasharray="1.39 4.17"/>
<path d="M129.3 439.9 L126.2 436.0 L123.1 432.1 L120.0 428.2 L116.8 424.2 L113.7 420.1 L110.5 416.0 L107.3 411.8 L104.1 407.6 L100.8 403.3 L97.6 398.9 L94.3 394.5 L91.0 390.0 L87.7 385.4 L84.3 380.7 L80.9 375.9 L77.5 371.1 L74.1 366.2 L70.6 361.2 L67.1 356.1 L63.6 350.9 L60.1 345.6 L56.6 340.2 L53.0 334.7 L49.4 329.1 L45.8 323.3 L42.2 317.5 L38.5 311.5 L34.9 305.4 L31.2 299.2 L27.5 292.8 L23.8 286.2 L20.1 279.5 L16.4 272.7 L12.7 265.6 L8.9 258.4 L5.1 251.0 L1.3 243.4 L-2.5 235.5" stroke="#008000" stroke-width="0.90" stroke-dasharray="1.39 4.17"/>
<path d="M230.1 439.9 L226.6 436.0 L223.1 432.1 L219.6 428.2 L216.1 424.2 L212.5 420.1 L209.0 416.0 L205.4 411.8 L201.8 407.6 L198.1 403.3 L194.5 398.9 L190.8 394.5 L187.0 390.0 L183.3 385.4 L179.6 380.7 L175.8 375.9 L172.0 371.1 L168.2 366.2 L164.4 361.2 L160.5 356.1 L156.6 350.9 L152.4 345.6 L148.0 340.2 L143.6 334.7 L139.2 329.1 L134.7 323.3 L130.2 317.5 L125.7 311.5 L121.0 305.4 L116.4 299.2 L111.7 292.8 L107.0 286.2 L102.3 279.5 L97.5 272.7 L93.1 265.6 L88.7 258.4 L84.2 251.0 L79.8 243.4 L75.2 235.5 L70.7 227.5 L66.1 219.2 L61.6 210.6 L57.2 201.8 L52.8 192.7 L48.4 183.3 L44.0 173.5 L39.5 163.4 L35.0 152.9 L30.7 142.0 L26.4 130.7 L22.1 118.8 L17.8 106.5 L13.5 93.6 L9.2 80.0" stroke="#008000" stroke-width="0.90" stroke-dasharray="1.39 4.17"/>
<path d="M364.5 439.9 L360.7 436.0 L356.8 432.1 L352.9 428.2 L349.0 424.2 L345.0 420.1 L341.0 416.0 L336.9 411.8 L332.8 407.6 L328.6 403.3 L324.4 398.9 L320.2 394.5 L315.9 390.0 L311.5 385.4 L307.2 380.7 L302.8 375.9 L298.3 371.1 L293.9 366.2 L289.3 361.2 L284.8 356.1 L280.2 350.9 L275.4 345.6 L270.5 340.2 L265.5 334.7 L260.5 329.1 L255.5 323.3 L250.4 317.5 L245.0 311.5 L239.5 305.4 L234.0 299.2 L228.4 292.8 L222.8 286.2 L217.2 279.5 L211.8 272.7 L206.7 265.6 L201.7 258.4 L196.6 251.0 L191.4 243.4 L186.2 235.5 L181.0 227.5 L175.7 219.2 L170.5 210.6 L165.2 201.8 L159.9 192.7 L154.6 183.3 L149.2 173.5 L143.7 163.4 L138.3 152.9 L132.4 142.0 L126.3 130.7 L120.8 118.8 L115.3 106.5 L109.8 93.6 L104.3 80.0" stroke="#008000" stroke-width="0.90" stroke-dasharray="1.39 4.17"/>
<path d="M430.0 439.9 L426.2 436.0 L422.4 432.1 L418.5 428.2 L414.5 424.2 L410.5 420.1 L406.4 416.0 L402.2 411.8 L398.0 407.6 L393.7 403.3 L389.3 398.9 L384.9 394.5 L380.4 390.0 L375.9 385.4 L371.3 380.7 L366.6 375.9 L361.9 371.1 L357.2 366.2 L352.3 361.2 L347.4 356.1 L342.5 350.9 L337.5 345.6 L332.4 340.2 L327.3 334.7 L322.0 329.1 L316.5 323.3 L311.0 317.5 L305.4 311.5 L299.7 305.4 L293.9 299.2 L288.2 292.8 L282.4 286.2 L276.6 279.5 L270.7 272.7 L265.2 265.6 L259.6 258.4 L254.0 251.0 L248.3 243.4 L242.5 235.5 L236.7 227.5 L230.8 219.2 L225.0 210.6 L219.4 201.8 L213.7 192.7 L207.9 183.3 L202.2 173.5 L196.3 163.4 L190.4 152.9 L184.4 142.0 L178.3 130.7 L172.2 118.8 L166.0 106.5 L159.8 93.6 L153.6 80.0" stroke="#008000" stroke-width="0.90" stroke-dasharray="1.39 4.17"/>
<path d="M505.4 439.9 L501.9 436.0 L498.4 432.1 L494.7 428.2 L491.0 424.2 L487.2 420.1 L483.4 416.0 L479.4 411.8 L475.3 407.6 L471.2 403.3 L466.9 398.9 L462.6 394.5 L458.2 390.0 L453.7 385.4 L449.1 380.7 L444.5 375.9 L439.7 371.1 L434.9 366.2 L430.0 361.2 L425.0 356.1 L419.9 350.9 L414.7 345.6 L409.4 340.2 L404.0 334.7 L398.6 329.1 L392.7 323.3 L386.8 317.5 L380.8 311.5 L374.7 305.4 L368.5 299.2 L362.3 292.8 L356.2 286.2 L350.0 279.5 L343.6 272.7 L337.7 265.6 L331.7 258.4 L325.7 251.0 L319.7 243.4 L313.5 235.5 L307.3 227.5 L301.0 219.2 L294.7 210.6 L288.2 201.8 L281.7 192.7 L274.9 183.3 L267.8 173.5 L260.6 163.4 L253.5 152.9 L247.0 142.0 L240.4 130.7 L233.7 118.8 L227.0 106.5 L220.3 93.6 L213.4 80.0" stroke="#008000" stroke-width="0.90" stroke-dasharray="1.39 4.17"/>
</g>
<path d="M125.0 720.50 H900.0" stroke="#000" stroke-width="0.8"/>
<path d="M125.0 691.50 H900.0" stroke="#000" stroke-width="0.8"/>
<path d="M125.0 658.50 H900.0" stroke="#000" stroke-width="0.8"/>
<path d="M125.0 621.50 H900.0" stroke="#000" stroke-width="0.8"/>
<path d="M125.0 578.50 H900.0" stroke="#000" stroke-width="0.8"/>
<path d="M125.0 527.50 H900.0" stroke="#000" stroke-width="0.8"/>
<path d="M125.0 465.50 H900.0" stroke="#000" stroke-width="0.8"/>
<path d="M125.0 385.50 H900.0" stroke="#000" stroke-width="0.8"/>
<path d="M125.0 273.50 H900.0" stroke="#000" stroke-width="0.8"/>
<path d="M125.0 80.50 H900.0" stroke="#000" stroke-width="0.8"/>
</g>
<g clip-path="url(#ax)" fill="none" stroke-linejoin="round">
<path d="M330.4 80.8 L322.4 90.4 L347.0 101.0 L324.0 128.8 L346.4 159.2 L371.2 167.2 L386.4 180.0 L402.4 190.8 L409.6 202.4 L412.0 213.6 L406.8 228.0 L389.0 245.0 L369.2 263.6 L355.6 282.8 L365.0 300.0 L384.0 335.0 L408.0 354.0 L428.0 371.0 L440.0 385.0 L454.4 408.4 L458.4 431.6 L457.5 440.0 L446.4 464.4 L420.0 472.0 L266.3 500.8 L390.0 513.8 L420.0 518.8 L497.5 530.0 L511.3 535.0 L521.3 548.0 L493.0 565.3 L530.4 574.9 L547.2 588.0 L543.8 599.5 L511.2 613.6 L521.0 629.5 L557.4 642.6 L557.9 655.4 L561.7 657.1 L554.7 662.4 L557.5 665.9 L611.4 700.2 L617.7 707.2 L619.8 711.4 L624.0 714.9" stroke="#008000" stroke-width="2.78"/>
<path d="M337.7 112.0 L280.8 140.0 L284.0 144.0 L346.4 160.8 L380.0 182.4 L397.6 192.0 L404.0 200.8 L403.6 210.8 L400.4 223.6 L392.4 237.2 L382.0 250.0 L369.0 264.0 L356.0 283.0 L364.4 292.4 L369.0 300.0 L378.0 320.0 L386.0 335.0 L398.0 348.0 L414.0 370.0 L424.0 383.6 L437.6 403.6 L455.2 427.6 L458.4 431.6 L458.4 445.2 L459.2 461.2 L457.5 467.5 L452.0 469.2 L420.0 482.0 L401.3 495.0 L406.3 501.3 L502.5 522.5 L540.0 533.8 L550.4 540.0 L567.2 556.0 L574.4 564.0 L572.8 570.4 L563.2 584.0 L550.4 593.6 L537.6 604.0 L528.0 612.8 L531.2 615.2 L540.8 620.0 L556.8 630.4 L574.4 638.4 L583.4 644.2 L586.2 649.8 L586.9 658.2 L582.0 664.5 L586.0 672.0 L617.0 697.4 L614.2 707.9 L616.3 713.5" stroke="#008000" stroke-width="2.78" stroke-dasharray="8.33 8.33" stroke-dashoffset="-5"/>
<path d="M623.2 80.8 L596.0 106.4 L564.0 130.4 L536.0 156.0 L516.0 176.8 L492.0 204.0 L464.8 226.4 L459.2 242.4 L452.0 264.8 L439.2 284.0 L436.5 304.0 L434.0 334.0 L444.0 352.0 L458.0 372.0 L488.8 413.2 L507.2 434.0 L525.6 466.0 L541.0 480.4 L567.0 499.0 L580.0 512.5 L582.5 521.3 L578.8 535.0 L577.2 550.0 L578.0 560.0 L582.4 571.0 L592.0 586.4 L604.8 613.6 L624.0 636.0 L636.5 654.6 L640.1 664.0 L640.8 676.4 L647.8 690.4 L653.4 701.6 L650.6 706.5 L642.2 711.4 L628.9 714.2" stroke="#ff0000" stroke-width="2.78"/>
<path d="M616.5 80.8 L607.0 89.5 L585.0 110.0 L563.0 131.5 L535.0 156.5 L515.0 176.8 L497.0 197.0 L482.4 215.2 L469.6 231.2 L455.2 252.0 L440.8 269.6 L431.2 280.8 L429.6 288.8 L432.0 304.0 L433.0 320.0 L435.0 336.0 L450.0 358.0 L462.0 372.0 L474.4 385.2 L495.2 408.4 L506.4 421.2 L519.2 437.2 L536.8 462.8 L548.0 475.6 L566.0 492.5 L582.5 507.5 L590.0 520.0 L591.3 540.0 L591.0 560.0 L592.0 577.0 L595.5 590.0 L604.0 613.6 L623.0 636.0 L629.6 649.8 L636.6 665.2 L638.7 676.4 L646.4 694.6 L651.3 701.6 L647.8 707.9 L638.0 712.1 L629.0 714.3" stroke="#ff0000" stroke-width="2.78" stroke-dasharray="8.33 8.33"/>
<path d="M662.0 78.0 L640.8 80.8 L628.0 82.4 L621.6 88.8 L600.8 103.2 L600.8 108.0 L597.6 111.2 L567.2 127.2 L531.2 141.6 L536.0 158.4 L520.8 167.2 L517.6 180.0 L515.2 192.0 L507.2 201.6 L473.6 213.6 L462.4 227.2 L468.8 244.8 L452.0 248.0 L424.0 264.0 L418.4 283.2 L428.0 300.0 L460.0 353.0 L475.2 370.0 L488.0 384.4 L485.9 389.5 L496.8 401.2 L500.0 408.4 L507.2 431.6 L538.4 466.0 L547.2 480.4 L547.2 486.0 L562.5 505.0 L576.3 527.5 L575.0 537.5 L579.2 544.8 L578.9 549.6 L571.2 554.7 L578.4 564.0 L579.2 568.8 L575.7 572.8 L592.0 588.0 L585.6 591.7 L603.2 613.9 L598.1 618.1 L606.4 629.6 L620.8 640.8 L638.6 655.1 L631.0 658.2 L628.2 662.4 L623.3 665.9 L628.2 674.3 L661.8 697.4 L663.9 708.6 L649.2 712.8 L631.0 714.9" stroke="#000" stroke-width="2.78"/>
<path d="M364.8 80.8 L324.0 128.0 L279.2 141.6 L299.2 159.2 L292.0 167.2 L292.0 193.6 L311.6 201.2 L301.2 214.0 L308.4 227.6 L332.4 246.8 L330.8 260.4 L327.6 273.2 L316.4 282.8 L324.0 300.0 L340.0 336.0 L352.0 353.6 L317.0 371.6 L370.0 385.0 L404.0 390.0 L415.0 401.4 L383.6 408.6 L420.0 425.2 L435.2 431.6 L466.4 467.6 L456.8 480.4 L491.2 485.2 L490.4 494.8 L478.8 500.8 L445.0 504.5 L420.0 506.3 L251.3 512.0 L335.0 522.0 L176.3 531.3 L416.3 538.3 L299.5 545.0 L420.0 552.0 L455.0 554.5 L477.5 560.0 L420.0 562.5 L368.8 565.8 L402.5 570.0 L420.0 570.8 L480.0 572.0 L500.8 572.5 L530.4 574.9 L524.8 588.8 L545.6 591.5 L556.8 598.9 L544.0 613.9 L550.4 618.4 L546.4 622.4 L523.2 629.6 L526.4 640.0 L544.8 643.7 L518.4 655.2 L487.2 657.4 L484.6 661.4 L556.4 665.1 L591.2 673.6 L592.5 699.5 L596.0 704.4 L603.0 709.3 L612.8 712.8 L609.5 714.9" stroke="#000" stroke-width="2.78"/>
</g>
<g>
<path d="M857.4 192.3 L823.2 186.7 M836.0 188.8 L835.0 181.6" stroke="#000" stroke-width="1.45" fill="none" stroke-linecap="butt"/><path d="M823.2 186.7 L829.7 173.7 L831.7 188.1 Z" fill="#000" stroke="#000" stroke-width="1.45" stroke-linejoin="miter"/>
<path d="M857.4 203.2 L823.2 197.5 M836.0 199.6 L835.0 192.4" stroke="#000" stroke-width="1.45" fill="none" stroke-linecap="butt"/><path d="M823.2 197.5 L829.8 184.5 L831.7 198.9 Z" fill="#000" stroke="#000" stroke-width="1.45" stroke-linejoin="miter"/>
<path d="M857.4 230.4 L823.7 222.3 M836.3 225.3 L835.3 210.8 M840.5 226.4 L839.5 211.9 M844.7 227.4 L843.8 212.9" stroke="#000" stroke-width="1.45" fill="none" stroke-linecap="butt"/><path d="M823.7 222.3 L831.1 209.8 L832.1 224.3 Z" fill="#000" stroke="#000" stroke-width="1.45" stroke-linejoin="miter"/>
<path d="M857.4 257.2 L823.2 251.2 M836.0 253.5 L834.2 239.0 M840.3 254.2 L838.4 239.8 M844.6 255.0 L843.6 247.7" stroke="#000" stroke-width="1.45" fill="none" stroke-linecap="butt"/><path d="M823.2 251.2 L829.9 238.3 L831.8 252.7 Z" fill="#000" stroke="#000" stroke-width="1.45" stroke-linejoin="miter"/>
<path d="M857.4 265.0 L823.7 256.8 M836.3 259.9 L835.4 245.4 M840.5 260.9 L839.6 246.4 M844.8 261.9 L844.3 254.7" stroke="#000" stroke-width="1.45" fill="none" stroke-linecap="butt"/><path d="M823.7 256.8 L831.2 244.4 L832.1 258.9 Z" fill="#000" stroke="#000" stroke-width="1.45" stroke-linejoin="miter"/>
<path d="M857.4 271.6 L823.8 263.0 M836.4 266.3 L835.6 251.7 M840.6 267.3 L839.8 252.8 M844.8 268.4 L844.0 253.9" stroke="#000" stroke-width="1.45" fill="none" stroke-linecap="butt"/><path d="M823.8 263.0 L831.4 250.7 L832.2 265.2 Z" fill="#000" stroke="#000" stroke-width="1.45" stroke-linejoin="miter"/>
<path d="M857.4 334.5 L824.7 322.8 M837.0 327.2 L837.6 312.6 M841.1 328.6 L841.7 314.1 M845.2 330.1 L845.5 322.8" stroke="#000" stroke-width="1.45" fill="none" stroke-linecap="butt"/><path d="M824.7 322.8 L833.5 311.2 L832.9 325.7 Z" fill="#000" stroke="#000" stroke-width="1.45" stroke-linejoin="miter"/>
<path d="M857.4 385.2 L823.8 376.4 M836.4 379.7 L835.8 365.1 M840.6 380.8 L840.3 373.5" stroke="#000" stroke-width="1.45" fill="none" stroke-linecap="butt"/><path d="M823.8 376.4 L831.6 364.0 L832.2 378.6 Z" fill="#000" stroke="#000" stroke-width="1.45" stroke-linejoin="miter"/>
<path d="M857.4 399.6 L824.1 390.0 M836.6 393.6 L836.2 379.1 M840.7 394.8 L840.6 387.5" stroke="#000" stroke-width="1.45" fill="none" stroke-linecap="butt"/><path d="M824.1 390.0 L832.1 377.9 L832.4 392.4 Z" fill="#000" stroke="#000" stroke-width="1.45" stroke-linejoin="miter"/>
<path d="M857.4 458.5 L823.9 449.5 M823.9 449.5 L823.3 435.0 M828.1 450.6 L827.5 436.1 M832.3 451.8 L831.7 437.2 M836.5 452.9 L835.9 438.3" stroke="#000" stroke-width="1.45" fill="none" stroke-linecap="butt"/>
<path d="M857.4 464.8 L824.5 453.8 M824.5 453.8 L824.8 439.2 M828.6 455.1 L828.9 440.6 M832.7 456.5 L833.0 442.0 M836.8 457.9 L837.1 443.4" stroke="#000" stroke-width="1.45" fill="none" stroke-linecap="butt"/>
<path d="M857.4 504.8 L824.2 494.6 M824.2 494.6 L824.1 480.1 M828.4 495.9 L828.3 481.3 M832.5 497.2 L832.4 482.6 M836.7 498.4 L836.6 483.9" stroke="#000" stroke-width="1.45" fill="none" stroke-linecap="butt"/>
<path d="M857.4 515.4 L824.3 505.1 M824.3 505.1 L824.3 490.5 M828.4 506.4 L828.4 491.8 M832.6 507.7 L832.5 493.1 M836.7 509.0 L836.7 501.7" stroke="#000" stroke-width="1.45" fill="none" stroke-linecap="butt"/>
<path d="M857.4 526.9 L824.2 516.7 M824.2 516.7 L824.2 502.1 M828.4 517.9 L828.3 503.4 M832.5 519.2 L832.5 504.7 M836.7 520.5 L836.7 513.2" stroke="#000" stroke-width="1.45" fill="none" stroke-linecap="butt"/>
<path d="M857.4 559.0 L834.8 532.7 M834.8 532.7 L842.5 520.3 M837.6 536.0 L845.3 523.6" stroke="#000" stroke-width="1.45" fill="none" stroke-linecap="butt"/>
<path d="M857.4 570.5 L832.7 546.2 M832.7 546.2 L839.3 533.2 M835.8 549.2 L842.4 536.3" stroke="#000" stroke-width="1.45" fill="none" stroke-linecap="butt"/>
<path d="M857.4 581.0 L832.7 556.7 M832.7 556.7 L839.3 543.7 M835.8 559.7 L842.4 546.8" stroke="#000" stroke-width="1.45" fill="none" stroke-linecap="butt"/>
<path d="M857.4 591.5 L832.4 567.5 M832.4 567.5 L838.9 554.5 M835.5 570.5 L842.0 557.5" stroke="#000" stroke-width="1.45" fill="none" stroke-linecap="butt"/>
<path d="M857.4 602.0 L837.4 573.7 M837.4 573.7 L846.2 562.1 M839.9 577.2 L844.3 571.4" stroke="#000" stroke-width="1.45" fill="none" stroke-linecap="butt"/>
<path d="M857.4 613.0 L828.6 593.7 M828.6 593.7 L832.7 579.8 M832.2 596.1 L834.2 589.1" stroke="#000" stroke-width="1.45" fill="none" stroke-linecap="butt"/>
<path d="M857.4 620.0 L825.8 605.7 M825.8 605.7 L827.5 591.3 M829.7 607.5 L830.6 600.3" stroke="#000" stroke-width="1.45" fill="none" stroke-linecap="butt"/>
<path d="M857.4 623.0 L829.3 602.6 M829.3 602.6 L834.0 588.8" stroke="#000" stroke-width="1.45" fill="none" stroke-linecap="butt"/>
<path d="M857.4 655.0 L842.6 623.6 M842.6 623.6 L853.3 613.8 M844.4 627.6 L855.1 617.7" stroke="#000" stroke-width="1.45" fill="none" stroke-linecap="butt"/>
<path d="M857.4 643.5 L860.0 608.9 M860.0 608.9 L874.1 605.6" stroke="#000" stroke-width="1.45" fill="none" stroke-linecap="butt"/>
<path d="M857.4 664.4 L888.8 649.7 M882.9 652.5 L887.8 657.8" stroke="#000" stroke-width="1.45" fill="none" stroke-linecap="butt"/>
<path d="M857.4 673.3 L877.9 645.3 M874.1 650.5 L880.9 652.9" stroke="#000" stroke-width="1.45" fill="none" stroke-linecap="butt"/>
<path d="M857.4 684.6 L889.8 672.2 M883.7 674.5 L888.2 680.2" stroke="#000" stroke-width="1.45" fill="none" stroke-linecap="butt"/>
<path d="M857.4 694.7 L881.3 669.6 M876.8 674.3 L883.4 677.5" stroke="#000" stroke-width="1.45" fill="none" stroke-linecap="butt"/>
<path d="M857.4 695.3 L885.4 674.8 M880.2 678.7 L886.0 683.0" stroke="#000" stroke-width="1.45" fill="none" stroke-linecap="butt"/>
<path d="M857.4 703.6 L881.7 678.8 M877.1 683.5 L883.6 686.8" stroke="#000" stroke-width="1.45" fill="none" stroke-linecap="butt"/>
<circle cx="857.2" cy="714.8" r="5.0" fill="none" stroke="#000" stroke-width="1.4"/>
</g>
<path d="M857.5 80 V720" stroke="#000" stroke-width="1.3"/>
<path d="M125.50 720.5 v-5.56 M125.50 80.5 v5.56" stroke="#000" stroke-width="0.8"/>
<path d="M211.50 720.5 v-5.56 M211.50 80.5 v5.56" stroke="#000" stroke-width="0.8"/>
<path d="M297.50 720.5 v-5.56 M297.50 80.5 v5.56" stroke="#000" stroke-width="0.8"/>
<path d="M383.50 720.5 v-5.56 M383.50 80.5 v5.56" stroke="#000" stroke-width="0.8"/>
<path d="M469.50 720.5 v-5.56 M469.50 80.5 v5.56" stroke="#000" stroke-width="0.8"/>
<path d="M555.50 720.5 v-5.56 M555.50 80.5 v5.56" stroke="#000" stroke-width="0.8"/>
<path d="M641.50 720.5 v-5.56 M641.50 80.5 v5.56" stroke="#000" stroke-width="0.8"/>
<path d="M727.50 720.5 v-5.56 M727.50 80.5 v5.56" stroke="#000" stroke-width="0.8"/>
<path d="M813.50 720.5 v-5.56 M813.50 80.5 v5.56" stroke="#000" stroke-width="0.8"/>
<path d="M900.50 720.5 v-5.56 M900.50 80.5 v5.56" stroke="#000" stroke-width="0.8"/>
<path d="M125.5 80.50 h5.56 M900.5 80.50 h-5.56" stroke="#000" stroke-width="0.8"/>
<path d="M125.5 273.50 h5.56 M900.5 273.50 h-5.56" stroke="#000" stroke-width="0.8"/>
<path d="M125.5 385.50 h5.56 M900.5 385.50 h-5.56" stroke="#000" stroke-width="0.8"/>
<path d="M125.5 465.50 h5.56 M900.5 465.50 h-5.56" stroke="#000" stroke-width="0.8"/>
<path d="M125.5 527.50 h5.56 M900.5 527.50 h-5.56" stroke="#000" stroke-width="0.8"/>
<path d="M125.5 578.50 h5.56 M900.5 578.50 h-5.56" stroke="#000" stroke-width="0.8"/>
<path d="M125.5 621.50 h5.56 M900.5 621.50 h-5.56" stroke="#000" stroke-width="0.8"/>
<path d="M125.5 658.50 h5.56 M900.5 658.50 h-5.56" stroke="#000" stroke-width="0.8"/>
<path d="M125.5 691.50 h5.56 M900.5 691.50 h-5.56" stroke="#000" stroke-width="0.8"/>
<path d="M125.5 720.50 h5.56 M900.5 720.50 h-5.56" stroke="#000" stroke-width="0.8"/>
<rect x="125.5" y="80.5" width="775" height="640" fill="none" stroke="#000" stroke-width="1.3"/>
<rect x="281.5" y="90.8" width="462.7" height="20.2" fill="#fff" fill-opacity="0.6" stroke="#000" stroke-opacity="0.75" stroke-width="1"/>
<text x="512.5" y="104.6" text-anchor="middle" xml:space="preserve" style="font-weight:bold;font-style:italic;font-size:15.28px;white-space:pre">Mem 001  Skew-T at Minneapolis   Valid: 2015062512</text>
<text x="120.1" y="84.2" text-anchor="end">100</text>
<text x="120.1" y="276.9" text-anchor="end">200</text>
<text x="120.1" y="389.6" text-anchor="end">300</text>
<text x="120.1" y="469.5" text-anchor="end">400</text>
<text x="120.1" y="531.5" text-anchor="end">500</text>
<text x="120.1" y="582.2" text-anchor="end">600</text>
<text x="120.1" y="625.1" text-anchor="end">700</text>
<text x="120.1" y="662.2" text-anchor="end">800</text>
<text x="120.1" y="694.9" text-anchor="end">900</text>
<text x="120.1" y="724.2" text-anchor="end">1000</text>
<text x="125.0" y="737.8" text-anchor="middle">−40</text>
<text x="211.1" y="737.8" text-anchor="middle">−30</text>
<text x="297.2" y="737.8" text-anchor="middle">−20</text>
<text x="383.3" y="737.8" text-anchor="middle">−10</text>
<text x="469.4" y="737.8" text-anchor="middle">0</text>
<text x="555.6" y="737.8" text-anchor="middle">10</text>
<text x="641.7" y="737.8" text-anchor="middle">20</text>
<text x="727.8" y="737.8" text-anchor="middle">30</text>
<text x="813.9" y="737.8" text-anchor="middle">40</text>
<text x="900.0" y="737.8" text-anchor="middle">50</text>
<text x="120" y="99.5" text-anchor="end" style="font-size:15px">mb</text>
</svg>
</body></html>
